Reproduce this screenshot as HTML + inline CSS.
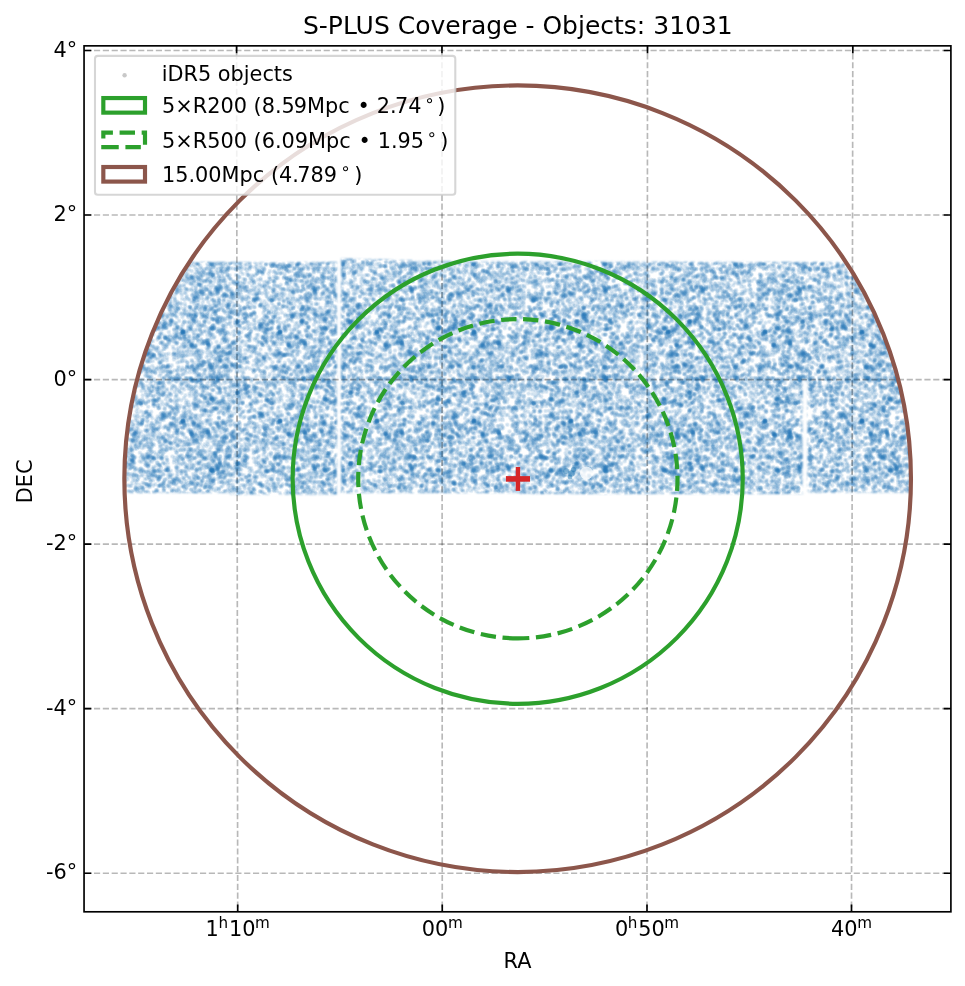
<!DOCTYPE html><html><head><meta charset="utf-8"><title>S-PLUS Coverage</title><style>html,body{margin:0;padding:0;background:#fff;}svg{display:block;will-change:transform;}text{font-family:"DejaVu Sans","Liberation Sans",sans-serif;fill:#000;}</style></head><body><svg width="965" height="986" viewBox="0 0 965 986"><rect width="965" height="986" fill="#fff"/><defs><clipPath id="cc"><circle cx="517.70" cy="478.75" r="393.3"/></clipPath><filter id="fb" x="-5%" y="-5%" width="110%" height="110%"><feGaussianBlur stdDeviation="0.90"/></filter><mask id="cf" maskUnits="userSpaceOnUse" x="90" y="240" width="860" height="280"><path d="M100.0 262.0 L337.0 262.0 L337.0 494.5 L230.0 494.5 L230.0 493.0 L100.0 493.0Z M341.0 258.5 L450.0 261.5 L802.5 262.0 L802.5 380.0 L802.5 494.0 L520.0 494.0 L520.0 493.0 L341.0 493.0Z M802.5 262.0 L930.0 262.0 L930.0 492.5 L807.5 492.5 L807.5 381.0 L802.5 381.0Z" fill="#fff" filter="url(#fb)"/></mask><pattern id="p0" patternUnits="userSpaceOnUse" width="97" height="89" x="0" y="0" fill="#1f77b4" fill-opacity="0.120" stroke="#1f77b4" stroke-opacity="0.120" stroke-width="2.083"><circle cx="31.4" cy="13.4" r="1.28"/><circle cx="63.1" cy="6.4" r="1.28"/><circle cx="52.0" cy="32.5" r="1.28"/><circle cx="5.6" cy="45.2" r="1.28"/><circle cx="3.6" cy="38.6" r="1.28"/><circle cx="6.8" cy="8.1" r="1.28"/><circle cx="41.2" cy="73.6" r="1.28"/><circle cx="12.0" cy="19.9" r="1.28"/><circle cx="60.9" cy="84.3" r="1.28"/><circle cx="56.0" cy="35.3" r="1.28"/><circle cx="-2.3" cy="4.1" r="1.28"/><circle cx="94.7" cy="4.1" r="1.28"/><circle cx="83.3" cy="25.8" r="1.28"/><circle cx="14.0" cy="10.5" r="1.28"/><circle cx="29.9" cy="72.6" r="1.28"/><circle cx="17.5" cy="51.8" r="1.28"/><circle cx="62.0" cy="33.1" r="1.28"/><circle cx="53.1" cy="5.6" r="1.28"/><circle cx="5.8" cy="18.3" r="1.28"/><circle cx="66.0" cy="38.1" r="1.28"/><circle cx="30.5" cy="52.1" r="1.28"/><circle cx="44.0" cy="26.7" r="1.28"/><circle cx="77.1" cy="62.2" r="1.28"/><circle cx="23.7" cy="51.1" r="1.28"/><circle cx="50.9" cy="77.9" r="1.28"/><circle cx="70.8" cy="25.6" r="1.28"/><circle cx="-1.9" cy="10.5" r="1.28"/><circle cx="95.1" cy="10.5" r="1.28"/><circle cx="40.6" cy="67.4" r="1.28"/><circle cx="14.7" cy="43.5" r="1.28"/><circle cx="3.8" cy="59.5" r="1.28"/><circle cx="74.2" cy="51.0" r="1.28"/><circle cx="84.9" cy="27.9" r="1.28"/><circle cx="67.4" cy="52.9" r="1.28"/><circle cx="56.2" cy="40.6" r="1.28"/><circle cx="81.5" cy="84.1" r="1.28"/><circle cx="46.0" cy="59.1" r="1.28"/><circle cx="5.9" cy="62.4" r="1.28"/><circle cx="62.8" cy="-0.6" r="1.28"/><circle cx="62.8" cy="88.4" r="1.28"/><circle cx="79.7" cy="25.3" r="1.28"/><circle cx="37.4" cy="59.5" r="1.28"/><circle cx="2.2" cy="41.1" r="1.28"/><circle cx="99.2" cy="41.1" r="1.28"/><circle cx="16.3" cy="10.4" r="1.28"/><circle cx="5.7" cy="68.4" r="1.28"/><circle cx="12.5" cy="22.0" r="1.28"/><circle cx="37.9" cy="77.6" r="1.28"/><circle cx="7.8" cy="40.0" r="1.28"/><circle cx="53.3" cy="78.6" r="1.28"/><circle cx="79.5" cy="76.9" r="1.28"/><circle cx="27.0" cy="37.0" r="1.28"/><circle cx="34.8" cy="78.7" r="1.28"/><circle cx="92.9" cy="13.4" r="1.28"/><circle cx="17.1" cy="20.6" r="1.28"/><circle cx="22.6" cy="43.2" r="1.28"/><circle cx="57.1" cy="23.4" r="1.28"/><circle cx="0.4" cy="37.3" r="1.28"/><circle cx="97.4" cy="37.3" r="1.28"/><circle cx="35.8" cy="50.4" r="1.28"/><circle cx="92.5" cy="61.5" r="1.28"/><circle cx="50.0" cy="55.0" r="1.28"/><circle cx="65.6" cy="4.8" r="1.28"/><circle cx="87.3" cy="69.4" r="1.28"/><circle cx="84.8" cy="71.0" r="1.28"/><circle cx="38.1" cy="35.5" r="1.28"/><circle cx="10.0" cy="56.5" r="1.28"/><circle cx="6.0" cy="6.0" r="1.28"/><circle cx="20.3" cy="14.4" r="1.28"/><circle cx="33.0" cy="4.7" r="1.28"/><circle cx="0.0" cy="13.5" r="1.28"/><circle cx="97.0" cy="13.5" r="1.28"/><circle cx="9.8" cy="32.4" r="1.28"/><circle cx="2.5" cy="77.8" r="1.28"/><circle cx="99.5" cy="77.8" r="1.28"/><circle cx="59.6" cy="13.2" r="1.28"/><circle cx="24.5" cy="30.9" r="1.28"/><circle cx="35.3" cy="10.9" r="1.28"/><circle cx="82.3" cy="-0.6" r="1.28"/><circle cx="82.3" cy="88.4" r="1.28"/><circle cx="45.2" cy="43.1" r="1.28"/><circle cx="8.3" cy="9.1" r="1.28"/><circle cx="33.2" cy="23.6" r="1.28"/><circle cx="80.4" cy="14.4" r="1.28"/><circle cx="2.2" cy="84.6" r="1.28"/><circle cx="99.2" cy="84.6" r="1.28"/><circle cx="51.2" cy="13.0" r="1.28"/><circle cx="52.7" cy="2.4" r="1.28"/><circle cx="52.7" cy="91.4" r="1.28"/><circle cx="51.2" cy="-1.9" r="1.28"/><circle cx="51.2" cy="87.1" r="1.28"/><circle cx="83.7" cy="62.0" r="1.28"/><circle cx="25.3" cy="32.6" r="1.28"/><circle cx="16.2" cy="68.7" r="1.28"/><circle cx="51.7" cy="69.3" r="1.28"/><circle cx="32.0" cy="19.9" r="1.28"/><circle cx="78.7" cy="-1.3" r="1.28"/><circle cx="78.7" cy="87.7" r="1.28"/><circle cx="82.7" cy="71.7" r="1.28"/><circle cx="79.4" cy="65.8" r="1.28"/><circle cx="22.0" cy="46.1" r="1.28"/><circle cx="34.5" cy="2.6" r="1.28"/><circle cx="34.5" cy="91.6" r="1.28"/><circle cx="2.7" cy="24.9" r="1.28"/><circle cx="99.7" cy="24.9" r="1.28"/><circle cx="25.1" cy="61.6" r="1.28"/><circle cx="92.8" cy="39.8" r="1.28"/><circle cx="90.9" cy="-1.1" r="1.28"/><circle cx="90.9" cy="87.9" r="1.28"/><circle cx="92.6" cy="32.5" r="1.28"/><circle cx="21.4" cy="20.2" r="1.28"/><circle cx="19.1" cy="18.2" r="1.28"/><circle cx="60.5" cy="80.1" r="1.28"/><circle cx="81.5" cy="42.7" r="1.28"/><circle cx="63.3" cy="71.2" r="1.28"/><circle cx="8.2" cy="58.8" r="1.28"/><circle cx="88.2" cy="69.6" r="1.28"/><circle cx="72.8" cy="42.5" r="1.28"/><circle cx="17.3" cy="70.2" r="1.28"/><circle cx="32.3" cy="71.3" r="1.28"/><circle cx="-2.7" cy="35.2" r="1.28"/><circle cx="94.3" cy="35.2" r="1.28"/><circle cx="38.9" cy="84.3" r="1.28"/><circle cx="70.3" cy="15.1" r="1.28"/><circle cx="12.3" cy="13.5" r="1.28"/><circle cx="87.8" cy="71.8" r="1.28"/><circle cx="14.2" cy="73.6" r="1.28"/><circle cx="-1.9" cy="58.5" r="1.28"/><circle cx="95.1" cy="58.5" r="1.28"/><circle cx="34.0" cy="48.8" r="1.28"/><circle cx="12.7" cy="1.3" r="1.28"/><circle cx="12.7" cy="90.3" r="1.28"/><circle cx="-2.8" cy="57.8" r="1.28"/><circle cx="94.2" cy="57.8" r="1.28"/><circle cx="51.1" cy="83.1" r="1.28"/><circle cx="42.1" cy="77.6" r="1.28"/><circle cx="80.1" cy="18.8" r="1.28"/><circle cx="24.4" cy="26.1" r="1.28"/><circle cx="23.3" cy="52.2" r="1.28"/><circle cx="25.2" cy="37.3" r="1.28"/><circle cx="12.7" cy="81.0" r="1.28"/><circle cx="34.3" cy="40.8" r="1.28"/><circle cx="56.6" cy="80.5" r="1.28"/><circle cx="40.8" cy="81.7" r="1.28"/><circle cx="48.7" cy="47.3" r="1.28"/><circle cx="50.8" cy="1.7" r="1.28"/><circle cx="50.8" cy="90.7" r="1.28"/><circle cx="42.7" cy="16.3" r="1.28"/><circle cx="0.4" cy="71.1" r="1.28"/><circle cx="97.4" cy="71.1" r="1.28"/><circle cx="16.7" cy="42.1" r="1.28"/><circle cx="70.3" cy="49.5" r="1.28"/><circle cx="31.6" cy="46.1" r="1.28"/><circle cx="53.9" cy="69.8" r="1.28"/><circle cx="10.3" cy="49.9" r="1.28"/><circle cx="24.1" cy="24.6" r="1.28"/><circle cx="74.9" cy="45.2" r="1.28"/><circle cx="54.5" cy="67.6" r="1.28"/><circle cx="88.5" cy="39.4" r="1.28"/><circle cx="59.4" cy="45.0" r="1.28"/><circle cx="49.7" cy="61.7" r="1.28"/><circle cx="43.9" cy="47.5" r="1.28"/><circle cx="46.4" cy="83.8" r="1.28"/><circle cx="67.8" cy="78.0" r="1.28"/><circle cx="91.4" cy="23.1" r="1.28"/><circle cx="54.3" cy="84.0" r="1.28"/><circle cx="81.5" cy="12.2" r="1.28"/><circle cx="11.8" cy="39.3" r="1.28"/><circle cx="7.0" cy="21.4" r="1.28"/><circle cx="7.1" cy="59.6" r="1.28"/><circle cx="76.0" cy="79.8" r="1.28"/><circle cx="15.0" cy="63.7" r="1.28"/><circle cx="64.0" cy="12.7" r="1.28"/><circle cx="85.6" cy="-2.9" r="1.28"/><circle cx="85.6" cy="86.1" r="1.28"/><circle cx="21.3" cy="84.8" r="1.28"/><circle cx="38.6" cy="43.4" r="1.28"/><circle cx="-1.0" cy="74.1" r="1.28"/><circle cx="96.0" cy="74.1" r="1.28"/><circle cx="15.7" cy="38.4" r="1.28"/><circle cx="50.0" cy="30.2" r="1.28"/><circle cx="19.0" cy="28.3" r="1.28"/><circle cx="70.0" cy="1.7" r="1.28"/><circle cx="70.0" cy="90.7" r="1.28"/><circle cx="53.7" cy="39.2" r="1.28"/><circle cx="1.8" cy="29.5" r="1.28"/><circle cx="98.8" cy="29.5" r="1.28"/><circle cx="60.5" cy="45.6" r="1.28"/><circle cx="6.2" cy="-1.3" r="1.28"/><circle cx="6.2" cy="87.7" r="1.28"/><circle cx="76.5" cy="-2.5" r="1.28"/><circle cx="76.5" cy="86.5" r="1.28"/><circle cx="10.2" cy="23.6" r="1.28"/><circle cx="3.8" cy="69.3" r="1.28"/><circle cx="26.2" cy="11.5" r="1.28"/><circle cx="41.0" cy="81.1" r="1.28"/><circle cx="79.4" cy="23.0" r="1.28"/><circle cx="14.5" cy="81.8" r="1.28"/><circle cx="55.3" cy="62.3" r="1.28"/><circle cx="8.7" cy="5.1" r="1.28"/><circle cx="66.8" cy="37.9" r="1.28"/><circle cx="7.0" cy="83.5" r="1.28"/><circle cx="61.5" cy="71.3" r="1.28"/><circle cx="8.1" cy="76.2" r="1.28"/><circle cx="6.5" cy="76.8" r="1.28"/><circle cx="44.0" cy="30.2" r="1.28"/><circle cx="53.6" cy="82.5" r="1.28"/><circle cx="26.0" cy="11.5" r="1.28"/><circle cx="51.1" cy="21.2" r="1.28"/><circle cx="10.6" cy="14.4" r="1.28"/><circle cx="4.9" cy="18.0" r="1.28"/><circle cx="30.3" cy="27.1" r="1.28"/><circle cx="73.7" cy="25.8" r="1.28"/><circle cx="48.5" cy="15.8" r="1.28"/><circle cx="33.7" cy="1.6" r="1.28"/><circle cx="33.7" cy="90.6" r="1.28"/><circle cx="24.3" cy="1.4" r="1.28"/><circle cx="24.3" cy="90.4" r="1.28"/><circle cx="71.1" cy="49.0" r="1.28"/><circle cx="18.4" cy="42.3" r="1.28"/><circle cx="90.7" cy="9.5" r="1.28"/><circle cx="79.4" cy="38.5" r="1.28"/><circle cx="48.0" cy="74.3" r="1.28"/><circle cx="38.1" cy="45.1" r="1.28"/><circle cx="66.7" cy="-1.6" r="1.28"/><circle cx="66.7" cy="87.4" r="1.28"/><circle cx="33.2" cy="74.1" r="1.28"/><circle cx="68.6" cy="56.6" r="1.28"/><circle cx="39.3" cy="30.9" r="1.28"/><circle cx="5.3" cy="11.6" r="1.28"/><circle cx="6.9" cy="65.9" r="1.28"/><circle cx="24.8" cy="14.5" r="1.28"/><circle cx="8.2" cy="74.9" r="1.28"/><circle cx="84.4" cy="59.7" r="1.28"/><circle cx="27.3" cy="21.6" r="1.28"/><circle cx="28.4" cy="40.9" r="1.28"/><circle cx="15.3" cy="39.7" r="1.28"/><circle cx="25.5" cy="85.6" r="1.28"/><circle cx="-2.7" cy="48.7" r="1.28"/><circle cx="94.3" cy="48.7" r="1.28"/><circle cx="23.7" cy="85.9" r="1.28"/><circle cx="30.0" cy="31.7" r="1.28"/><circle cx="0.1" cy="34.0" r="1.28"/><circle cx="97.1" cy="34.0" r="1.28"/><circle cx="46.0" cy="44.7" r="1.28"/><circle cx="19.5" cy="44.9" r="1.28"/><circle cx="0.5" cy="23.5" r="1.28"/><circle cx="97.5" cy="23.5" r="1.28"/><circle cx="8.7" cy="35.6" r="1.28"/><circle cx="4.0" cy="2.0" r="1.28"/><circle cx="4.0" cy="91.0" r="1.28"/><circle cx="29.5" cy="20.7" r="1.28"/><circle cx="56.8" cy="47.1" r="1.28"/><circle cx="72.8" cy="58.5" r="1.28"/><circle cx="69.5" cy="78.2" r="1.28"/><circle cx="37.8" cy="29.0" r="1.28"/><circle cx="-1.5" cy="13.3" r="1.28"/><circle cx="95.5" cy="13.3" r="1.28"/><circle cx="70.2" cy="57.2" r="1.28"/><circle cx="4.2" cy="74.3" r="1.28"/><circle cx="86.5" cy="55.8" r="1.28"/><circle cx="71.2" cy="72.3" r="1.28"/><circle cx="13.5" cy="46.6" r="1.28"/><circle cx="48.9" cy="74.3" r="1.28"/><circle cx="78.1" cy="73.6" r="1.28"/><circle cx="56.7" cy="79.5" r="1.28"/><circle cx="66.2" cy="61.7" r="1.28"/><circle cx="22.3" cy="2.8" r="1.28"/><circle cx="22.3" cy="91.8" r="1.28"/><circle cx="12.9" cy="32.1" r="1.28"/><circle cx="10.2" cy="74.4" r="1.28"/><circle cx="54.2" cy="55.9" r="1.28"/><circle cx="60.7" cy="60.6" r="1.28"/><circle cx="47.5" cy="0.3" r="1.28"/><circle cx="47.5" cy="89.3" r="1.28"/><circle cx="77.4" cy="66.6" r="1.28"/><circle cx="48.8" cy="47.6" r="1.28"/><circle cx="64.0" cy="5.9" r="1.28"/><circle cx="71.5" cy="22.4" r="1.28"/><circle cx="7.2" cy="23.6" r="1.28"/><circle cx="70.7" cy="18.3" r="1.28"/><circle cx="71.8" cy="-2.2" r="1.28"/><circle cx="71.8" cy="86.8" r="1.28"/><circle cx="47.9" cy="34.0" r="1.28"/><circle cx="46.5" cy="60.8" r="1.28"/><circle cx="74.4" cy="54.9" r="1.28"/><circle cx="62.3" cy="6.9" r="1.28"/><circle cx="14.3" cy="22.6" r="1.28"/><circle cx="72.1" cy="27.1" r="1.28"/><circle cx="55.1" cy="1.1" r="1.28"/><circle cx="55.1" cy="90.1" r="1.28"/><circle cx="5.9" cy="23.9" r="1.28"/><circle cx="65.2" cy="61.6" r="1.28"/><circle cx="65.5" cy="25.9" r="1.28"/><circle cx="50.1" cy="41.4" r="1.28"/><circle cx="45.2" cy="10.5" r="1.28"/><circle cx="86.7" cy="17.7" r="1.28"/><circle cx="-2.1" cy="83.3" r="1.28"/><circle cx="94.9" cy="83.3" r="1.28"/><circle cx="1.7" cy="40.8" r="1.28"/><circle cx="98.7" cy="40.8" r="1.28"/><circle cx="79.5" cy="-2.8" r="1.28"/><circle cx="79.5" cy="86.2" r="1.28"/><circle cx="43.6" cy="23.9" r="1.28"/><circle cx="20.4" cy="84.2" r="1.28"/><circle cx="20.4" cy="51.8" r="1.28"/><circle cx="13.7" cy="46.6" r="1.28"/><circle cx="92.4" cy="11.8" r="1.28"/><circle cx="79.6" cy="45.3" r="1.28"/><circle cx="86.0" cy="62.6" r="1.28"/><circle cx="22.4" cy="79.9" r="1.28"/><circle cx="47.2" cy="2.2" r="1.28"/><circle cx="47.2" cy="91.2" r="1.28"/><circle cx="0.3" cy="43.8" r="1.28"/><circle cx="97.3" cy="43.8" r="1.28"/><circle cx="43.7" cy="26.9" r="1.28"/><circle cx="13.6" cy="30.6" r="1.28"/><circle cx="30.7" cy="74.8" r="1.28"/><circle cx="0.2" cy="66.8" r="1.28"/><circle cx="97.2" cy="66.8" r="1.28"/><circle cx="81.4" cy="10.7" r="1.28"/><circle cx="89.9" cy="63.5" r="1.28"/><circle cx="87.5" cy="25.8" r="1.28"/><circle cx="36.1" cy="35.0" r="1.28"/><circle cx="-0.1" cy="52.4" r="1.28"/><circle cx="96.9" cy="52.4" r="1.28"/><circle cx="35.0" cy="38.1" r="1.28"/><circle cx="26.7" cy="4.3" r="1.28"/><circle cx="9.9" cy="74.3" r="1.28"/><circle cx="27.7" cy="83.3" r="1.28"/><circle cx="24.2" cy="23.6" r="1.28"/><circle cx="49.6" cy="16.9" r="1.28"/><circle cx="36.2" cy="85.1" r="1.28"/><circle cx="85.8" cy="72.3" r="1.28"/><circle cx="61.2" cy="81.3" r="1.28"/><circle cx="91.2" cy="48.9" r="1.28"/><circle cx="69.8" cy="4.4" r="1.28"/><circle cx="71.0" cy="40.1" r="1.28"/><circle cx="73.0" cy="57.4" r="1.28"/><circle cx="27.8" cy="4.4" r="1.28"/><circle cx="89.9" cy="11.3" r="1.28"/><circle cx="45.8" cy="30.6" r="1.28"/><circle cx="28.9" cy="65.8" r="1.28"/><circle cx="-2.3" cy="23.2" r="1.28"/><circle cx="94.7" cy="23.2" r="1.28"/><circle cx="63.6" cy="26.8" r="1.28"/><circle cx="54.1" cy="35.1" r="1.28"/><circle cx="16.2" cy="14.4" r="1.28"/><circle cx="20.2" cy="80.6" r="1.28"/><circle cx="48.2" cy="19.6" r="1.28"/><circle cx="87.9" cy="-0.3" r="1.28"/><circle cx="87.9" cy="88.7" r="1.28"/><circle cx="43.6" cy="12.4" r="1.28"/><circle cx="18.7" cy="8.1" r="1.28"/><circle cx="33.2" cy="8.1" r="1.28"/><circle cx="23.2" cy="23.0" r="1.28"/><circle cx="55.3" cy="79.0" r="1.28"/><circle cx="72.7" cy="36.7" r="1.28"/><circle cx="40.1" cy="46.7" r="1.28"/><circle cx="36.6" cy="30.1" r="1.28"/><circle cx="6.0" cy="24.7" r="1.28"/><circle cx="93.9" cy="11.2" r="1.28"/><circle cx="48.8" cy="56.0" r="1.28"/><circle cx="83.7" cy="19.2" r="1.28"/><circle cx="26.3" cy="22.1" r="1.28"/><circle cx="38.8" cy="39.7" r="1.28"/><circle cx="92.5" cy="75.5" r="1.28"/><circle cx="84.7" cy="1.9" r="1.28"/><circle cx="84.7" cy="90.9" r="1.28"/><circle cx="3.1" cy="63.1" r="1.28"/><circle cx="86.9" cy="42.1" r="1.28"/><circle cx="57.0" cy="0.0" r="1.28"/><circle cx="57.0" cy="89.0" r="1.28"/><circle cx="38.0" cy="82.5" r="1.28"/><circle cx="80.1" cy="76.1" r="1.28"/><circle cx="-2.7" cy="22.1" r="1.28"/><circle cx="94.3" cy="22.1" r="1.28"/><circle cx="10.6" cy="13.7" r="1.28"/><circle cx="50.7" cy="60.7" r="1.28"/><circle cx="91.3" cy="64.2" r="1.28"/><circle cx="62.8" cy="68.1" r="1.28"/><circle cx="44.4" cy="49.1" r="1.28"/><circle cx="3.8" cy="69.6" r="1.28"/><circle cx="22.6" cy="81.9" r="1.28"/><circle cx="62.6" cy="27.0" r="1.28"/><circle cx="12.4" cy="22.4" r="1.28"/><circle cx="61.7" cy="62.2" r="1.28"/><circle cx="9.8" cy="5.7" r="1.28"/><circle cx="11.1" cy="7.9" r="1.28"/><circle cx="2.7" cy="26.4" r="1.28"/><circle cx="99.7" cy="26.4" r="1.28"/><circle cx="2.0" cy="25.9" r="1.28"/><circle cx="99.0" cy="25.9" r="1.28"/><circle cx="22.5" cy="21.0" r="1.28"/><circle cx="24.2" cy="22.2" r="1.28"/><circle cx="22.2" cy="20.9" r="1.28"/><circle cx="22.7" cy="23.8" r="1.28"/><circle cx="23.5" cy="21.6" r="1.28"/><circle cx="23.8" cy="22.2" r="1.28"/><circle cx="21.2" cy="22.9" r="1.28"/><circle cx="23.5" cy="24.0" r="1.28"/><circle cx="22.7" cy="20.6" r="1.28"/><circle cx="23.7" cy="25.0" r="1.28"/><circle cx="30.6" cy="75.0" r="1.28"/><circle cx="28.9" cy="85.5" r="1.28"/><circle cx="27.1" cy="85.6" r="1.28"/><circle cx="92.8" cy="16.2" r="1.28"/><circle cx="11.8" cy="6.2" r="1.28"/><circle cx="86.7" cy="64.8" r="1.28"/><circle cx="86.8" cy="67.8" r="1.28"/><circle cx="85.7" cy="64.9" r="1.28"/><circle cx="85.1" cy="64.2" r="1.28"/><circle cx="85.0" cy="66.0" r="1.28"/><circle cx="85.8" cy="65.3" r="1.28"/><circle cx="85.5" cy="66.3" r="1.28"/><circle cx="86.3" cy="65.0" r="1.28"/><circle cx="86.5" cy="65.0" r="1.28"/><circle cx="84.3" cy="67.0" r="1.28"/><circle cx="86.3" cy="64.1" r="1.28"/><circle cx="87.0" cy="65.6" r="1.28"/><circle cx="83.8" cy="67.1" r="1.28"/><circle cx="86.1" cy="66.3" r="1.28"/><circle cx="85.9" cy="65.0" r="1.28"/><circle cx="83.8" cy="66.4" r="1.28"/><circle cx="85.7" cy="64.9" r="1.28"/><circle cx="86.1" cy="65.3" r="1.28"/><circle cx="90.1" cy="22.2" r="1.28"/><circle cx="88.8" cy="25.9" r="1.28"/><circle cx="88.6" cy="22.2" r="1.28"/><circle cx="89.0" cy="21.9" r="1.28"/><circle cx="28.2" cy="-0.5" r="1.28"/><circle cx="28.2" cy="88.5" r="1.28"/><circle cx="27.0" cy="0.2" r="1.28"/><circle cx="27.0" cy="89.2" r="1.28"/><circle cx="26.9" cy="1.7" r="1.28"/><circle cx="26.9" cy="90.7" r="1.28"/><circle cx="29.6" cy="-0.5" r="1.28"/><circle cx="29.6" cy="88.5" r="1.28"/><circle cx="34.7" cy="22.5" r="1.28"/><circle cx="38.4" cy="24.3" r="1.28"/><circle cx="70.8" cy="72.6" r="1.28"/><circle cx="71.2" cy="74.3" r="1.28"/><circle cx="71.7" cy="72.7" r="1.28"/><circle cx="72.3" cy="75.1" r="1.28"/><circle cx="23.0" cy="5.4" r="1.28"/><circle cx="-2.0" cy="79.1" r="1.28"/><circle cx="95.0" cy="79.1" r="1.28"/><circle cx="-0.8" cy="79.4" r="1.28"/><circle cx="96.2" cy="79.4" r="1.28"/><circle cx="-2.2" cy="77.4" r="1.28"/><circle cx="94.8" cy="77.4" r="1.28"/><circle cx="-1.8" cy="79.9" r="1.28"/><circle cx="95.2" cy="79.9" r="1.28"/><circle cx="93.8" cy="77.4" r="1.28"/><circle cx="-1.9" cy="76.3" r="1.28"/><circle cx="95.1" cy="76.3" r="1.28"/><circle cx="-2.2" cy="78.1" r="1.28"/><circle cx="94.8" cy="78.1" r="1.28"/><circle cx="-1.4" cy="77.8" r="1.28"/><circle cx="95.6" cy="77.8" r="1.28"/><circle cx="-3.0" cy="78.2" r="1.28"/><circle cx="94.0" cy="78.2" r="1.28"/><circle cx="-2.0" cy="77.8" r="1.28"/><circle cx="95.0" cy="77.8" r="1.28"/><circle cx="-1.9" cy="79.5" r="1.28"/><circle cx="95.1" cy="79.5" r="1.28"/><circle cx="-0.5" cy="80.7" r="1.28"/><circle cx="96.5" cy="80.7" r="1.28"/><circle cx="-2.9" cy="78.1" r="1.28"/><circle cx="94.1" cy="78.1" r="1.28"/><circle cx="38.7" cy="1.5" r="1.28"/><circle cx="38.7" cy="90.5" r="1.28"/><circle cx="36.3" cy="85.3" r="1.28"/><circle cx="11.4" cy="40.0" r="1.28"/><circle cx="10.9" cy="42.5" r="1.28"/><circle cx="10.5" cy="42.8" r="1.28"/><circle cx="11.5" cy="42.0" r="1.28"/><circle cx="11.0" cy="41.8" r="1.28"/><circle cx="84.5" cy="37.1" r="1.28"/><circle cx="10.5" cy="54.2" r="1.28"/><circle cx="10.8" cy="53.7" r="1.28"/><circle cx="10.2" cy="54.7" r="1.28"/><circle cx="62.4" cy="19.7" r="1.28"/><circle cx="18.4" cy="26.3" r="1.28"/><circle cx="4.5" cy="8.5" r="1.28"/><circle cx="6.7" cy="9.4" r="1.28"/><circle cx="66.4" cy="39.2" r="1.28"/><circle cx="28.2" cy="51.6" r="1.28"/><circle cx="-0.4" cy="31.6" r="1.28"/><circle cx="96.6" cy="31.6" r="1.28"/><circle cx="1.1" cy="79.1" r="1.28"/><circle cx="98.1" cy="79.1" r="1.28"/><circle cx="1.6" cy="79.3" r="1.28"/><circle cx="98.6" cy="79.3" r="1.28"/><circle cx="14.1" cy="-0.7" r="1.28"/><circle cx="14.1" cy="88.3" r="1.28"/><circle cx="17.2" cy="2.2" r="1.28"/><circle cx="17.2" cy="91.2" r="1.28"/><circle cx="35.7" cy="46.3" r="1.28"/><circle cx="90.8" cy="6.7" r="1.28"/><circle cx="90.0" cy="10.3" r="1.28"/><circle cx="-2.9" cy="-1.3" r="1.28"/><circle cx="-2.9" cy="87.7" r="1.28"/><circle cx="94.1" cy="-1.3" r="1.28"/><circle cx="94.1" cy="87.7" r="1.28"/><circle cx="89.5" cy="-0.5" r="1.28"/><circle cx="89.5" cy="88.5" r="1.28"/><circle cx="60.4" cy="72.6" r="1.28"/><circle cx="39.6" cy="76.1" r="1.28"/><circle cx="38.1" cy="76.2" r="1.28"/><circle cx="38.8" cy="75.7" r="1.28"/><circle cx="39.3" cy="77.3" r="1.28"/><circle cx="39.5" cy="75.1" r="1.28"/><circle cx="54.9" cy="66.9" r="1.28"/><circle cx="57.7" cy="50.1" r="1.28"/><circle cx="57.1" cy="48.3" r="1.28"/><circle cx="57.4" cy="47.9" r="1.28"/><circle cx="41.6" cy="2.1" r="1.28"/><circle cx="41.6" cy="91.1" r="1.28"/><circle cx="42.7" cy="-0.0" r="1.28"/><circle cx="42.7" cy="89.0" r="1.28"/><circle cx="41.8" cy="2.3" r="1.28"/><circle cx="41.8" cy="91.3" r="1.28"/><circle cx="45.4" cy="9.8" r="1.28"/><circle cx="42.5" cy="45.0" r="1.28"/><circle cx="72.5" cy="69.7" r="1.28"/><circle cx="69.0" cy="71.3" r="1.28"/><circle cx="13.0" cy="74.1" r="1.28"/><circle cx="14.4" cy="79.5" r="1.28"/><circle cx="10.2" cy="76.4" r="1.28"/><circle cx="13.8" cy="75.9" r="1.28"/><circle cx="13.9" cy="73.6" r="1.28"/><circle cx="14.2" cy="76.7" r="1.28"/><circle cx="13.2" cy="75.6" r="1.28"/><circle cx="14.0" cy="75.7" r="1.28"/><circle cx="13.5" cy="75.7" r="1.28"/><circle cx="10.5" cy="76.2" r="1.28"/><circle cx="13.5" cy="77.2" r="1.28"/><circle cx="12.2" cy="76.2" r="1.28"/><circle cx="14.0" cy="76.5" r="1.28"/><circle cx="14.7" cy="78.7" r="1.28"/><circle cx="12.1" cy="74.0" r="1.28"/><circle cx="14.2" cy="78.1" r="1.28"/><circle cx="14.3" cy="77.3" r="1.28"/><circle cx="60.2" cy="31.5" r="1.28"/><circle cx="62.1" cy="31.6" r="1.28"/><circle cx="63.4" cy="31.9" r="1.28"/><circle cx="60.0" cy="33.3" r="1.28"/><circle cx="61.4" cy="35.7" r="1.28"/><circle cx="60.7" cy="31.5" r="1.28"/><circle cx="74.2" cy="39.0" r="1.28"/><circle cx="81.1" cy="22.4" r="1.28"/><circle cx="79.0" cy="21.7" r="1.28"/><circle cx="79.8" cy="22.6" r="1.28"/><circle cx="11.9" cy="54.6" r="1.28"/><circle cx="15.1" cy="55.5" r="1.28"/><circle cx="63.0" cy="2.4" r="1.28"/><circle cx="63.0" cy="91.4" r="1.28"/><circle cx="34.0" cy="19.5" r="1.28"/><circle cx="33.7" cy="19.0" r="1.28"/><circle cx="36.5" cy="22.1" r="1.28"/><circle cx="22.1" cy="11.4" r="1.28"/><circle cx="77.6" cy="35.9" r="1.28"/><circle cx="51.9" cy="32.2" r="1.28"/><circle cx="54.5" cy="30.3" r="1.28"/><circle cx="54.8" cy="31.0" r="1.28"/><circle cx="53.5" cy="36.9" r="1.28"/><circle cx="1.7" cy="49.7" r="1.28"/><circle cx="98.7" cy="49.7" r="1.28"/><circle cx="0.1" cy="48.1" r="1.28"/><circle cx="97.1" cy="48.1" r="1.28"/><circle cx="-0.2" cy="47.3" r="1.28"/><circle cx="96.8" cy="47.3" r="1.28"/><circle cx="1.7" cy="50.0" r="1.28"/><circle cx="98.7" cy="50.0" r="1.28"/><circle cx="1.1" cy="49.4" r="1.28"/><circle cx="98.1" cy="49.4" r="1.28"/><circle cx="2.8" cy="47.7" r="1.28"/><circle cx="99.8" cy="47.7" r="1.28"/><circle cx="1.2" cy="48.9" r="1.28"/><circle cx="98.2" cy="48.9" r="1.28"/><circle cx="2.3" cy="47.4" r="1.28"/><circle cx="99.3" cy="47.4" r="1.28"/><circle cx="45.2" cy="66.6" r="1.28"/><circle cx="45.2" cy="66.4" r="1.28"/><circle cx="33.6" cy="65.2" r="1.28"/><circle cx="32.4" cy="68.2" r="1.28"/><circle cx="30.6" cy="67.5" r="1.28"/><circle cx="31.6" cy="66.6" r="1.28"/><circle cx="62.4" cy="85.8" r="1.28"/><circle cx="27.1" cy="20.3" r="1.28"/><circle cx="24.1" cy="23.2" r="1.28"/><circle cx="24.8" cy="21.8" r="1.28"/><circle cx="26.7" cy="20.1" r="1.28"/><circle cx="65.0" cy="59.6" r="1.28"/><circle cx="66.4" cy="57.0" r="1.28"/><circle cx="65.4" cy="59.9" r="1.28"/><circle cx="66.3" cy="58.8" r="1.28"/><circle cx="67.6" cy="60.8" r="1.28"/><circle cx="69.5" cy="60.4" r="1.28"/><circle cx="67.4" cy="59.4" r="1.28"/><circle cx="69.4" cy="60.9" r="1.28"/><circle cx="66.8" cy="59.8" r="1.28"/><circle cx="67.6" cy="59.3" r="1.28"/><circle cx="66.6" cy="57.6" r="1.28"/><circle cx="66.6" cy="57.4" r="1.28"/><circle cx="7.3" cy="50.5" r="1.28"/></pattern><pattern id="p1" patternUnits="userSpaceOnUse" width="113" height="71" x="17" y="23" fill="#1f77b4" fill-opacity="0.120" stroke="#1f77b4" stroke-opacity="0.120" stroke-width="2.083"><circle cx="100.7" cy="4.7" r="1.28"/><circle cx="98.1" cy="64.9" r="1.28"/><circle cx="106.7" cy="7.6" r="1.28"/><circle cx="23.2" cy="7.9" r="1.28"/><circle cx="3.9" cy="60.2" r="1.28"/><circle cx="91.8" cy="45.0" r="1.28"/><circle cx="93.2" cy="44.8" r="1.28"/><circle cx="32.5" cy="7.1" r="1.28"/><circle cx="11.1" cy="53.8" r="1.28"/><circle cx="23.2" cy="22.7" r="1.28"/><circle cx="47.9" cy="1.5" r="1.28"/><circle cx="47.9" cy="72.5" r="1.28"/><circle cx="29.0" cy="20.1" r="1.28"/><circle cx="80.9" cy="26.1" r="1.28"/><circle cx="36.3" cy="-2.6" r="1.28"/><circle cx="36.3" cy="68.4" r="1.28"/><circle cx="56.9" cy="60.4" r="1.28"/><circle cx="69.9" cy="2.2" r="1.28"/><circle cx="69.9" cy="73.2" r="1.28"/><circle cx="46.7" cy="31.0" r="1.28"/><circle cx="87.4" cy="24.6" r="1.28"/><circle cx="79.6" cy="38.2" r="1.28"/><circle cx="24.5" cy="61.2" r="1.28"/><circle cx="10.3" cy="58.2" r="1.28"/><circle cx="19.3" cy="0.1" r="1.28"/><circle cx="19.3" cy="71.1" r="1.28"/><circle cx="22.8" cy="54.1" r="1.28"/><circle cx="-2.5" cy="0.3" r="1.28"/><circle cx="-2.5" cy="71.3" r="1.28"/><circle cx="110.5" cy="0.3" r="1.28"/><circle cx="110.5" cy="71.3" r="1.28"/><circle cx="55.5" cy="34.9" r="1.28"/><circle cx="90.0" cy="13.1" r="1.28"/><circle cx="55.9" cy="24.7" r="1.28"/><circle cx="94.0" cy="18.5" r="1.28"/><circle cx="106.7" cy="20.1" r="1.28"/><circle cx="24.3" cy="49.7" r="1.28"/><circle cx="56.3" cy="7.8" r="1.28"/><circle cx="71.9" cy="5.7" r="1.28"/><circle cx="89.0" cy="49.5" r="1.28"/><circle cx="88.9" cy="44.6" r="1.28"/><circle cx="40.2" cy="28.5" r="1.28"/><circle cx="44.6" cy="63.2" r="1.28"/><circle cx="9.7" cy="63.1" r="1.28"/><circle cx="2.8" cy="14.6" r="1.28"/><circle cx="115.8" cy="14.6" r="1.28"/><circle cx="29.7" cy="64.0" r="1.28"/><circle cx="56.6" cy="26.9" r="1.28"/><circle cx="99.9" cy="16.6" r="1.28"/><circle cx="52.1" cy="37.7" r="1.28"/><circle cx="85.3" cy="53.5" r="1.28"/><circle cx="73.0" cy="24.7" r="1.28"/><circle cx="36.9" cy="11.0" r="1.28"/><circle cx="95.3" cy="47.0" r="1.28"/><circle cx="83.8" cy="12.0" r="1.28"/><circle cx="49.6" cy="54.9" r="1.28"/><circle cx="65.4" cy="9.0" r="1.28"/><circle cx="52.2" cy="62.8" r="1.28"/><circle cx="26.9" cy="13.6" r="1.28"/><circle cx="34.1" cy="49.9" r="1.28"/><circle cx="95.3" cy="11.0" r="1.28"/><circle cx="17.6" cy="17.6" r="1.28"/><circle cx="36.9" cy="37.1" r="1.28"/><circle cx="18.2" cy="23.3" r="1.28"/><circle cx="21.4" cy="-1.8" r="1.28"/><circle cx="21.4" cy="69.2" r="1.28"/><circle cx="82.3" cy="7.2" r="1.28"/><circle cx="108.7" cy="7.2" r="1.28"/><circle cx="43.4" cy="-1.1" r="1.28"/><circle cx="43.4" cy="69.9" r="1.28"/><circle cx="89.8" cy="52.1" r="1.28"/><circle cx="49.1" cy="13.9" r="1.28"/><circle cx="72.1" cy="7.6" r="1.28"/><circle cx="23.3" cy="27.6" r="1.28"/><circle cx="3.8" cy="28.3" r="1.28"/><circle cx="89.4" cy="49.2" r="1.28"/><circle cx="56.6" cy="44.9" r="1.28"/><circle cx="52.4" cy="10.1" r="1.28"/><circle cx="68.2" cy="28.7" r="1.28"/><circle cx="83.7" cy="64.5" r="1.28"/><circle cx="48.6" cy="40.8" r="1.28"/><circle cx="84.6" cy="29.9" r="1.28"/><circle cx="25.8" cy="51.3" r="1.28"/><circle cx="99.4" cy="55.0" r="1.28"/><circle cx="79.1" cy="60.5" r="1.28"/><circle cx="76.8" cy="45.5" r="1.28"/><circle cx="51.3" cy="22.2" r="1.28"/><circle cx="71.0" cy="6.9" r="1.28"/><circle cx="47.4" cy="55.5" r="1.28"/><circle cx="80.6" cy="44.7" r="1.28"/><circle cx="28.3" cy="30.1" r="1.28"/><circle cx="51.4" cy="44.1" r="1.28"/><circle cx="46.3" cy="47.9" r="1.28"/><circle cx="105.1" cy="13.0" r="1.28"/><circle cx="74.0" cy="55.3" r="1.28"/><circle cx="43.9" cy="34.8" r="1.28"/><circle cx="-2.9" cy="2.7" r="1.28"/><circle cx="-2.9" cy="73.7" r="1.28"/><circle cx="110.1" cy="2.7" r="1.28"/><circle cx="110.1" cy="73.7" r="1.28"/><circle cx="61.4" cy="11.4" r="1.28"/><circle cx="88.3" cy="66.8" r="1.28"/><circle cx="58.7" cy="7.2" r="1.28"/><circle cx="64.9" cy="38.4" r="1.28"/><circle cx="81.1" cy="36.4" r="1.28"/><circle cx="72.2" cy="58.9" r="1.28"/><circle cx="59.0" cy="29.1" r="1.28"/><circle cx="107.1" cy="14.9" r="1.28"/><circle cx="77.3" cy="27.9" r="1.28"/><circle cx="86.2" cy="8.7" r="1.28"/><circle cx="-1.8" cy="25.2" r="1.28"/><circle cx="111.2" cy="25.2" r="1.28"/><circle cx="6.4" cy="19.5" r="1.28"/><circle cx="45.2" cy="0.9" r="1.28"/><circle cx="45.2" cy="71.9" r="1.28"/><circle cx="47.3" cy="29.9" r="1.28"/><circle cx="78.9" cy="25.0" r="1.28"/><circle cx="30.0" cy="15.9" r="1.28"/><circle cx="83.8" cy="66.7" r="1.28"/><circle cx="59.6" cy="15.5" r="1.28"/><circle cx="90.6" cy="27.8" r="1.28"/><circle cx="24.0" cy="9.2" r="1.28"/><circle cx="87.8" cy="57.5" r="1.28"/><circle cx="71.7" cy="33.3" r="1.28"/><circle cx="63.5" cy="16.0" r="1.28"/><circle cx="108.9" cy="25.1" r="1.28"/><circle cx="72.2" cy="58.1" r="1.28"/><circle cx="92.2" cy="33.2" r="1.28"/><circle cx="33.3" cy="38.9" r="1.28"/><circle cx="14.1" cy="59.2" r="1.28"/><circle cx="40.1" cy="60.4" r="1.28"/><circle cx="30.2" cy="26.7" r="1.28"/><circle cx="28.7" cy="30.3" r="1.28"/><circle cx="21.0" cy="0.2" r="1.28"/><circle cx="21.0" cy="71.2" r="1.28"/><circle cx="81.6" cy="20.0" r="1.28"/><circle cx="27.7" cy="21.4" r="1.28"/><circle cx="54.2" cy="30.4" r="1.28"/><circle cx="72.0" cy="46.8" r="1.28"/><circle cx="41.0" cy="65.9" r="1.28"/><circle cx="96.6" cy="4.1" r="1.28"/><circle cx="93.6" cy="64.3" r="1.28"/><circle cx="88.6" cy="10.0" r="1.28"/><circle cx="93.9" cy="45.0" r="1.28"/><circle cx="1.7" cy="0.8" r="1.28"/><circle cx="1.7" cy="71.8" r="1.28"/><circle cx="114.7" cy="0.8" r="1.28"/><circle cx="114.7" cy="71.8" r="1.28"/><circle cx="107.5" cy="46.6" r="1.28"/><circle cx="28.3" cy="7.2" r="1.28"/><circle cx="16.1" cy="16.6" r="1.28"/><circle cx="87.7" cy="24.6" r="1.28"/><circle cx="17.3" cy="64.2" r="1.28"/><circle cx="89.5" cy="11.9" r="1.28"/><circle cx="100.7" cy="43.2" r="1.28"/><circle cx="88.3" cy="47.5" r="1.28"/><circle cx="101.0" cy="56.0" r="1.28"/><circle cx="94.8" cy="14.0" r="1.28"/><circle cx="78.3" cy="37.7" r="1.28"/><circle cx="83.8" cy="31.1" r="1.28"/><circle cx="99.7" cy="39.4" r="1.28"/><circle cx="29.9" cy="16.6" r="1.28"/><circle cx="15.7" cy="35.0" r="1.28"/><circle cx="6.6" cy="33.2" r="1.28"/><circle cx="16.3" cy="34.9" r="1.28"/><circle cx="56.3" cy="38.3" r="1.28"/><circle cx="97.5" cy="0.5" r="1.28"/><circle cx="97.5" cy="71.5" r="1.28"/><circle cx="95.0" cy="33.2" r="1.28"/><circle cx="63.6" cy="47.2" r="1.28"/><circle cx="95.0" cy="26.6" r="1.28"/><circle cx="47.3" cy="-2.8" r="1.28"/><circle cx="47.3" cy="68.2" r="1.28"/><circle cx="8.5" cy="45.2" r="1.28"/><circle cx="71.9" cy="2.0" r="1.28"/><circle cx="71.9" cy="73.0" r="1.28"/><circle cx="68.9" cy="48.5" r="1.28"/><circle cx="105.3" cy="23.5" r="1.28"/><circle cx="-2.1" cy="36.3" r="1.28"/><circle cx="110.9" cy="36.3" r="1.28"/><circle cx="54.8" cy="63.7" r="1.28"/><circle cx="3.8" cy="51.0" r="1.28"/><circle cx="70.7" cy="24.0" r="1.28"/><circle cx="97.4" cy="26.0" r="1.28"/><circle cx="53.6" cy="37.3" r="1.28"/><circle cx="87.1" cy="15.0" r="1.28"/><circle cx="49.2" cy="30.0" r="1.28"/><circle cx="62.6" cy="58.7" r="1.28"/><circle cx="33.1" cy="58.8" r="1.28"/><circle cx="45.6" cy="35.8" r="1.28"/><circle cx="30.7" cy="36.0" r="1.28"/><circle cx="-2.8" cy="46.5" r="1.28"/><circle cx="110.2" cy="46.5" r="1.28"/><circle cx="89.5" cy="23.5" r="1.28"/><circle cx="35.8" cy="21.2" r="1.28"/><circle cx="66.3" cy="45.1" r="1.28"/><circle cx="88.6" cy="2.8" r="1.28"/><circle cx="88.6" cy="73.8" r="1.28"/><circle cx="81.7" cy="62.9" r="1.28"/><circle cx="61.6" cy="3.5" r="1.28"/><circle cx="33.9" cy="0.4" r="1.28"/><circle cx="33.9" cy="71.4" r="1.28"/><circle cx="21.5" cy="65.4" r="1.28"/><circle cx="68.8" cy="46.7" r="1.28"/><circle cx="89.2" cy="64.6" r="1.28"/><circle cx="69.1" cy="43.8" r="1.28"/><circle cx="70.8" cy="49.4" r="1.28"/><circle cx="67.4" cy="48.3" r="1.28"/><circle cx="24.0" cy="47.4" r="1.28"/><circle cx="51.7" cy="54.1" r="1.28"/><circle cx="11.5" cy="12.9" r="1.28"/><circle cx="4.2" cy="55.0" r="1.28"/><circle cx="103.3" cy="46.6" r="1.28"/><circle cx="41.7" cy="58.4" r="1.28"/><circle cx="88.9" cy="39.9" r="1.28"/><circle cx="29.2" cy="21.4" r="1.28"/><circle cx="47.7" cy="22.6" r="1.28"/><circle cx="48.7" cy="45.6" r="1.28"/><circle cx="105.5" cy="3.9" r="1.28"/><circle cx="64.1" cy="2.8" r="1.28"/><circle cx="64.1" cy="73.8" r="1.28"/><circle cx="13.4" cy="57.5" r="1.28"/><circle cx="65.0" cy="65.2" r="1.28"/><circle cx="50.5" cy="1.0" r="1.28"/><circle cx="50.5" cy="72.0" r="1.28"/><circle cx="43.7" cy="42.0" r="1.28"/><circle cx="106.0" cy="-1.4" r="1.28"/><circle cx="106.0" cy="69.6" r="1.28"/><circle cx="53.7" cy="29.3" r="1.28"/><circle cx="11.5" cy="45.8" r="1.28"/><circle cx="24.0" cy="10.8" r="1.28"/><circle cx="1.8" cy="0.3" r="1.28"/><circle cx="1.8" cy="71.3" r="1.28"/><circle cx="114.8" cy="0.3" r="1.28"/><circle cx="114.8" cy="71.3" r="1.28"/><circle cx="77.3" cy="8.6" r="1.28"/><circle cx="109.2" cy="6.3" r="1.28"/><circle cx="98.3" cy="9.2" r="1.28"/><circle cx="2.0" cy="51.1" r="1.28"/><circle cx="115.0" cy="51.1" r="1.28"/><circle cx="27.4" cy="52.1" r="1.28"/><circle cx="21.2" cy="3.6" r="1.28"/><circle cx="87.5" cy="50.7" r="1.28"/><circle cx="96.7" cy="51.8" r="1.28"/><circle cx="9.5" cy="44.6" r="1.28"/><circle cx="80.1" cy="32.7" r="1.28"/><circle cx="105.4" cy="18.0" r="1.28"/><circle cx="109.0" cy="50.9" r="1.28"/><circle cx="1.3" cy="1.0" r="1.28"/><circle cx="1.3" cy="72.0" r="1.28"/><circle cx="114.3" cy="1.0" r="1.28"/><circle cx="114.3" cy="72.0" r="1.28"/><circle cx="73.5" cy="58.0" r="1.28"/><circle cx="9.0" cy="22.1" r="1.28"/><circle cx="82.4" cy="11.8" r="1.28"/><circle cx="97.3" cy="34.5" r="1.28"/><circle cx="6.8" cy="26.1" r="1.28"/><circle cx="65.0" cy="31.1" r="1.28"/><circle cx="76.5" cy="10.3" r="1.28"/><circle cx="90.1" cy="25.8" r="1.28"/><circle cx="72.9" cy="44.7" r="1.28"/><circle cx="47.2" cy="27.4" r="1.28"/><circle cx="88.8" cy="67.1" r="1.28"/><circle cx="88.7" cy="40.2" r="1.28"/><circle cx="33.0" cy="4.3" r="1.28"/><circle cx="-2.9" cy="49.9" r="1.28"/><circle cx="110.1" cy="49.9" r="1.28"/><circle cx="93.5" cy="23.6" r="1.28"/><circle cx="68.5" cy="-1.6" r="1.28"/><circle cx="68.5" cy="69.4" r="1.28"/><circle cx="93.9" cy="42.7" r="1.28"/><circle cx="34.9" cy="30.4" r="1.28"/><circle cx="100.4" cy="26.7" r="1.28"/><circle cx="77.4" cy="42.7" r="1.28"/><circle cx="101.3" cy="57.3" r="1.28"/><circle cx="32.0" cy="0.1" r="1.28"/><circle cx="32.0" cy="71.1" r="1.28"/><circle cx="29.7" cy="30.0" r="1.28"/><circle cx="66.3" cy="57.9" r="1.28"/><circle cx="100.3" cy="3.0" r="1.28"/><circle cx="100.3" cy="74.0" r="1.28"/><circle cx="94.2" cy="57.6" r="1.28"/><circle cx="98.0" cy="40.6" r="1.28"/><circle cx="30.9" cy="60.4" r="1.28"/><circle cx="91.2" cy="48.6" r="1.28"/><circle cx="103.3" cy="24.6" r="1.28"/><circle cx="9.6" cy="39.3" r="1.28"/><circle cx="90.1" cy="14.2" r="1.28"/><circle cx="84.8" cy="66.2" r="1.28"/><circle cx="26.4" cy="43.1" r="1.28"/><circle cx="76.6" cy="33.0" r="1.28"/><circle cx="23.3" cy="18.1" r="1.28"/><circle cx="84.9" cy="56.2" r="1.28"/><circle cx="51.9" cy="6.2" r="1.28"/><circle cx="91.1" cy="54.8" r="1.28"/><circle cx="26.3" cy="41.2" r="1.28"/><circle cx="101.4" cy="62.8" r="1.28"/><circle cx="59.0" cy="33.8" r="1.28"/><circle cx="66.6" cy="13.4" r="1.28"/><circle cx="21.7" cy="12.8" r="1.28"/><circle cx="79.2" cy="25.8" r="1.28"/><circle cx="63.8" cy="28.6" r="1.28"/><circle cx="58.4" cy="10.6" r="1.28"/><circle cx="5.0" cy="-0.2" r="1.28"/><circle cx="5.0" cy="70.8" r="1.28"/><circle cx="42.3" cy="7.5" r="1.28"/><circle cx="71.5" cy="55.9" r="1.28"/><circle cx="17.6" cy="42.4" r="1.28"/><circle cx="39.0" cy="36.9" r="1.28"/><circle cx="2.3" cy="2.4" r="1.28"/><circle cx="2.3" cy="73.4" r="1.28"/><circle cx="115.3" cy="2.4" r="1.28"/><circle cx="115.3" cy="73.4" r="1.28"/><circle cx="-1.1" cy="61.5" r="1.28"/><circle cx="111.9" cy="61.5" r="1.28"/><circle cx="55.0" cy="40.3" r="1.28"/><circle cx="29.6" cy="55.3" r="1.28"/><circle cx="48.1" cy="67.2" r="1.28"/><circle cx="86.7" cy="58.1" r="1.28"/><circle cx="108.9" cy="18.0" r="1.28"/><circle cx="4.3" cy="14.3" r="1.28"/><circle cx="20.4" cy="5.9" r="1.28"/><circle cx="5.8" cy="39.6" r="1.28"/><circle cx="98.4" cy="32.5" r="1.28"/><circle cx="107.0" cy="64.6" r="1.28"/><circle cx="7.3" cy="42.5" r="1.28"/><circle cx="44.9" cy="8.5" r="1.28"/><circle cx="108.4" cy="18.3" r="1.28"/><circle cx="63.8" cy="45.5" r="1.28"/><circle cx="108.1" cy="47.6" r="1.28"/><circle cx="44.4" cy="31.8" r="1.28"/><circle cx="18.0" cy="-2.4" r="1.28"/><circle cx="18.0" cy="68.6" r="1.28"/><circle cx="-0.9" cy="15.7" r="1.28"/><circle cx="112.1" cy="15.7" r="1.28"/><circle cx="4.4" cy="18.2" r="1.28"/><circle cx="39.8" cy="64.1" r="1.28"/><circle cx="102.2" cy="59.4" r="1.28"/><circle cx="5.3" cy="55.8" r="1.28"/><circle cx="80.2" cy="45.9" r="1.28"/><circle cx="-1.6" cy="4.0" r="1.28"/><circle cx="111.4" cy="4.0" r="1.28"/><circle cx="16.4" cy="53.6" r="1.28"/><circle cx="106.2" cy="48.1" r="1.28"/><circle cx="33.8" cy="42.0" r="1.28"/><circle cx="85.6" cy="7.5" r="1.28"/><circle cx="36.6" cy="18.2" r="1.28"/><circle cx="14.0" cy="34.2" r="1.28"/><circle cx="19.0" cy="16.9" r="1.28"/><circle cx="16.2" cy="48.1" r="1.28"/><circle cx="1.4" cy="50.9" r="1.28"/><circle cx="114.4" cy="50.9" r="1.28"/><circle cx="22.0" cy="2.6" r="1.28"/><circle cx="22.0" cy="73.6" r="1.28"/><circle cx="104.8" cy="15.7" r="1.28"/><circle cx="105.5" cy="61.5" r="1.28"/><circle cx="100.4" cy="9.9" r="1.28"/><circle cx="50.5" cy="6.9" r="1.28"/><circle cx="105.0" cy="59.8" r="1.28"/><circle cx="71.0" cy="32.1" r="1.28"/><circle cx="38.4" cy="58.4" r="1.28"/><circle cx="54.0" cy="44.6" r="1.28"/><circle cx="15.8" cy="14.3" r="1.28"/><circle cx="15.8" cy="62.2" r="1.28"/><circle cx="31.3" cy="60.8" r="1.28"/><circle cx="36.3" cy="64.1" r="1.28"/><circle cx="100.2" cy="47.6" r="1.28"/><circle cx="33.4" cy="14.1" r="1.28"/><circle cx="104.9" cy="6.7" r="1.28"/><circle cx="84.3" cy="21.1" r="1.28"/><circle cx="81.7" cy="21.4" r="1.28"/><circle cx="84.4" cy="20.9" r="1.28"/><circle cx="81.3" cy="20.7" r="1.28"/><circle cx="79.7" cy="21.9" r="1.28"/><circle cx="82.4" cy="22.4" r="1.28"/><circle cx="82.6" cy="21.4" r="1.28"/><circle cx="82.3" cy="19.0" r="1.28"/><circle cx="82.3" cy="21.3" r="1.28"/><circle cx="83.5" cy="21.7" r="1.28"/><circle cx="81.1" cy="20.9" r="1.28"/><circle cx="82.5" cy="22.4" r="1.28"/><circle cx="80.1" cy="58.0" r="1.28"/><circle cx="79.8" cy="56.4" r="1.28"/><circle cx="79.9" cy="57.2" r="1.28"/><circle cx="92.5" cy="22.7" r="1.28"/><circle cx="94.2" cy="24.1" r="1.28"/><circle cx="89.2" cy="24.2" r="1.28"/><circle cx="91.5" cy="24.6" r="1.28"/><circle cx="92.2" cy="22.8" r="1.28"/><circle cx="92.2" cy="24.8" r="1.28"/><circle cx="65.9" cy="0.8" r="1.28"/><circle cx="65.9" cy="71.8" r="1.28"/><circle cx="68.6" cy="1.6" r="1.28"/><circle cx="68.6" cy="72.6" r="1.28"/><circle cx="92.0" cy="60.3" r="1.28"/><circle cx="86.2" cy="3.9" r="1.28"/><circle cx="83.4" cy="4.2" r="1.28"/><circle cx="84.7" cy="4.3" r="1.28"/><circle cx="85.7" cy="4.2" r="1.28"/><circle cx="85.1" cy="4.9" r="1.28"/><circle cx="84.9" cy="6.6" r="1.28"/><circle cx="3.5" cy="7.1" r="1.28"/><circle cx="2.1" cy="5.9" r="1.28"/><circle cx="115.1" cy="5.9" r="1.28"/><circle cx="1.5" cy="6.6" r="1.28"/><circle cx="114.5" cy="6.6" r="1.28"/><circle cx="5.3" cy="8.3" r="1.28"/><circle cx="79.6" cy="3.3" r="1.28"/><circle cx="32.6" cy="9.9" r="1.28"/><circle cx="32.0" cy="8.1" r="1.28"/><circle cx="66.0" cy="50.5" r="1.28"/><circle cx="42.7" cy="29.7" r="1.28"/><circle cx="45.9" cy="29.1" r="1.28"/><circle cx="43.5" cy="30.6" r="1.28"/><circle cx="43.3" cy="31.0" r="1.28"/><circle cx="46.1" cy="29.6" r="1.28"/><circle cx="104.5" cy="58.3" r="1.28"/><circle cx="105.8" cy="57.1" r="1.28"/><circle cx="103.1" cy="59.1" r="1.28"/><circle cx="102.4" cy="57.0" r="1.28"/><circle cx="102.7" cy="57.8" r="1.28"/><circle cx="101.8" cy="58.4" r="1.28"/><circle cx="2.8" cy="7.1" r="1.28"/><circle cx="115.8" cy="7.1" r="1.28"/><circle cx="0.9" cy="8.3" r="1.28"/><circle cx="113.9" cy="8.3" r="1.28"/><circle cx="4.2" cy="8.2" r="1.28"/><circle cx="4.0" cy="10.3" r="1.28"/><circle cx="2.2" cy="11.7" r="1.28"/><circle cx="115.2" cy="11.7" r="1.28"/><circle cx="2.1" cy="11.4" r="1.28"/><circle cx="115.1" cy="11.4" r="1.28"/><circle cx="3.8" cy="9.1" r="1.28"/><circle cx="2.3" cy="11.4" r="1.28"/><circle cx="115.3" cy="11.4" r="1.28"/><circle cx="-0.3" cy="11.1" r="1.28"/><circle cx="112.7" cy="11.1" r="1.28"/><circle cx="2.1" cy="10.9" r="1.28"/><circle cx="115.1" cy="10.9" r="1.28"/><circle cx="74.6" cy="8.2" r="1.28"/><circle cx="73.0" cy="9.9" r="1.28"/><circle cx="72.5" cy="8.4" r="1.28"/><circle cx="13.2" cy="9.9" r="1.28"/><circle cx="28.4" cy="4.8" r="1.28"/><circle cx="25.9" cy="5.5" r="1.28"/><circle cx="21.2" cy="49.9" r="1.28"/><circle cx="21.7" cy="50.6" r="1.28"/><circle cx="26.2" cy="16.8" r="1.28"/><circle cx="28.5" cy="15.8" r="1.28"/><circle cx="96.4" cy="17.0" r="1.28"/><circle cx="98.4" cy="16.9" r="1.28"/><circle cx="88.1" cy="10.3" r="1.28"/><circle cx="7.0" cy="27.0" r="1.28"/><circle cx="7.5" cy="30.5" r="1.28"/><circle cx="82.4" cy="12.4" r="1.28"/><circle cx="67.7" cy="60.1" r="1.28"/><circle cx="69.6" cy="58.3" r="1.28"/><circle cx="67.6" cy="60.7" r="1.28"/><circle cx="69.0" cy="57.8" r="1.28"/><circle cx="71.3" cy="62.1" r="1.28"/><circle cx="-2.6" cy="54.4" r="1.28"/><circle cx="110.4" cy="54.4" r="1.28"/><circle cx="-0.6" cy="53.8" r="1.28"/><circle cx="112.4" cy="53.8" r="1.28"/><circle cx="1.0" cy="52.0" r="1.28"/><circle cx="114.0" cy="52.0" r="1.28"/><circle cx="66.8" cy="27.5" r="1.28"/><circle cx="68.3" cy="28.1" r="1.28"/><circle cx="63.3" cy="25.0" r="1.28"/><circle cx="56.2" cy="32.2" r="1.28"/><circle cx="66.0" cy="40.8" r="1.28"/><circle cx="95.7" cy="60.7" r="1.28"/><circle cx="95.5" cy="59.4" r="1.28"/><circle cx="96.8" cy="60.0" r="1.28"/><circle cx="92.6" cy="59.6" r="1.28"/><circle cx="95.5" cy="58.0" r="1.28"/><circle cx="96.8" cy="59.5" r="1.28"/><circle cx="93.5" cy="59.3" r="1.28"/><circle cx="94.4" cy="60.2" r="1.28"/><circle cx="94.4" cy="58.9" r="1.28"/><circle cx="97.0" cy="58.9" r="1.28"/><circle cx="58.1" cy="7.9" r="1.28"/><circle cx="63.6" cy="62.6" r="1.28"/><circle cx="62.0" cy="59.6" r="1.28"/><circle cx="64.1" cy="63.7" r="1.28"/><circle cx="65.2" cy="61.8" r="1.28"/><circle cx="63.5" cy="65.5" r="1.28"/><circle cx="65.5" cy="61.2" r="1.28"/><circle cx="66.8" cy="64.1" r="1.28"/><circle cx="64.0" cy="60.4" r="1.28"/><circle cx="67.4" cy="62.3" r="1.28"/><circle cx="64.3" cy="62.8" r="1.28"/><circle cx="33.1" cy="37.0" r="1.28"/><circle cx="31.6" cy="35.1" r="1.28"/><circle cx="41.1" cy="-0.1" r="1.28"/><circle cx="41.1" cy="70.9" r="1.28"/><circle cx="40.2" cy="-1.4" r="1.28"/><circle cx="40.2" cy="69.6" r="1.28"/><circle cx="39.9" cy="-0.5" r="1.28"/><circle cx="39.9" cy="70.5" r="1.28"/><circle cx="34.0" cy="59.1" r="1.28"/><circle cx="32.9" cy="59.8" r="1.28"/><circle cx="34.2" cy="61.5" r="1.28"/><circle cx="59.5" cy="0.1" r="1.28"/><circle cx="59.5" cy="71.1" r="1.28"/><circle cx="61.2" cy="1.5" r="1.28"/><circle cx="61.2" cy="72.5" r="1.28"/><circle cx="60.5" cy="0.1" r="1.28"/><circle cx="60.5" cy="71.1" r="1.28"/><circle cx="17.6" cy="35.7" r="1.28"/><circle cx="19.4" cy="37.2" r="1.28"/><circle cx="19.4" cy="36.0" r="1.28"/><circle cx="19.0" cy="36.0" r="1.28"/><circle cx="19.7" cy="37.9" r="1.28"/><circle cx="10.5" cy="65.2" r="1.28"/><circle cx="10.9" cy="64.4" r="1.28"/><circle cx="12.5" cy="63.2" r="1.28"/><circle cx="108.4" cy="31.6" r="1.28"/><circle cx="-2.4" cy="30.2" r="1.28"/><circle cx="110.6" cy="30.2" r="1.28"/><circle cx="107.4" cy="33.6" r="1.28"/><circle cx="93.6" cy="21.2" r="1.28"/><circle cx="93.0" cy="21.3" r="1.28"/><circle cx="90.7" cy="22.8" r="1.28"/><circle cx="22.9" cy="22.2" r="1.28"/><circle cx="25.0" cy="22.7" r="1.28"/><circle cx="24.5" cy="22.5" r="1.28"/><circle cx="26.0" cy="21.8" r="1.28"/><circle cx="24.5" cy="21.7" r="1.28"/><circle cx="23.9" cy="21.7" r="1.28"/><circle cx="46.1" cy="3.7" r="1.28"/><circle cx="27.7" cy="13.9" r="1.28"/><circle cx="74.9" cy="23.7" r="1.28"/><circle cx="28.3" cy="60.1" r="1.28"/><circle cx="90.8" cy="10.2" r="1.28"/><circle cx="107.4" cy="14.7" r="1.28"/><circle cx="107.7" cy="15.0" r="1.28"/><circle cx="108.0" cy="13.9" r="1.28"/><circle cx="109.6" cy="13.8" r="1.28"/><circle cx="107.7" cy="15.4" r="1.28"/><circle cx="107.7" cy="14.3" r="1.28"/><circle cx="108.7" cy="14.3" r="1.28"/><circle cx="106.8" cy="14.6" r="1.28"/><circle cx="108.0" cy="16.8" r="1.28"/><circle cx="43.0" cy="47.8" r="1.28"/><circle cx="44.1" cy="47.1" r="1.28"/><circle cx="44.1" cy="45.8" r="1.28"/><circle cx="74.0" cy="8.8" r="1.28"/><circle cx="74.8" cy="8.2" r="1.28"/><circle cx="35.0" cy="15.1" r="1.28"/></pattern><pattern id="p2" patternUnits="userSpaceOnUse" width="131" height="103" x="34" y="46" fill="#1f77b4" fill-opacity="0.120" stroke="#1f77b4" stroke-opacity="0.120" stroke-width="2.083"><circle cx="52.8" cy="93.6" r="1.28"/><circle cx="101.5" cy="90.9" r="1.28"/><circle cx="112.8" cy="13.6" r="1.28"/><circle cx="36.2" cy="3.0" r="1.28"/><circle cx="89.0" cy="68.4" r="1.28"/><circle cx="46.0" cy="42.5" r="1.28"/><circle cx="86.3" cy="72.0" r="1.28"/><circle cx="32.5" cy="87.2" r="1.28"/><circle cx="46.1" cy="64.8" r="1.28"/><circle cx="23.8" cy="11.9" r="1.28"/><circle cx="119.6" cy="75.6" r="1.28"/><circle cx="93.3" cy="4.2" r="1.28"/><circle cx="5.2" cy="16.7" r="1.28"/><circle cx="25.9" cy="31.2" r="1.28"/><circle cx="49.9" cy="4.0" r="1.28"/><circle cx="40.7" cy="65.7" r="1.28"/><circle cx="23.5" cy="86.5" r="1.28"/><circle cx="74.7" cy="73.8" r="1.28"/><circle cx="33.4" cy="44.8" r="1.28"/><circle cx="89.6" cy="36.0" r="1.28"/><circle cx="0.1" cy="85.9" r="1.28"/><circle cx="131.1" cy="85.9" r="1.28"/><circle cx="101.7" cy="29.5" r="1.28"/><circle cx="5.6" cy="88.0" r="1.28"/><circle cx="79.6" cy="4.9" r="1.28"/><circle cx="32.0" cy="11.5" r="1.28"/><circle cx="103.7" cy="21.6" r="1.28"/><circle cx="119.8" cy="77.2" r="1.28"/><circle cx="11.3" cy="71.6" r="1.28"/><circle cx="51.6" cy="77.0" r="1.28"/><circle cx="108.6" cy="29.0" r="1.28"/><circle cx="11.8" cy="97.5" r="1.28"/><circle cx="55.5" cy="95.8" r="1.28"/><circle cx="90.6" cy="76.1" r="1.28"/><circle cx="108.7" cy="64.7" r="1.28"/><circle cx="59.3" cy="5.6" r="1.28"/><circle cx="91.5" cy="44.1" r="1.28"/><circle cx="67.1" cy="95.6" r="1.28"/><circle cx="16.7" cy="78.5" r="1.28"/><circle cx="5.7" cy="72.4" r="1.28"/><circle cx="105.6" cy="26.9" r="1.28"/><circle cx="71.6" cy="99.8" r="1.28"/><circle cx="83.5" cy="56.0" r="1.28"/><circle cx="32.7" cy="6.1" r="1.28"/><circle cx="46.9" cy="42.4" r="1.28"/><circle cx="26.4" cy="32.0" r="1.28"/><circle cx="17.9" cy="72.8" r="1.28"/><circle cx="87.8" cy="24.5" r="1.28"/><circle cx="31.7" cy="53.1" r="1.28"/><circle cx="58.3" cy="96.4" r="1.28"/><circle cx="46.0" cy="30.8" r="1.28"/><circle cx="115.9" cy="14.6" r="1.28"/><circle cx="73.8" cy="34.4" r="1.28"/><circle cx="106.8" cy="56.5" r="1.28"/><circle cx="99.6" cy="17.4" r="1.28"/><circle cx="87.3" cy="61.7" r="1.28"/><circle cx="60.4" cy="78.9" r="1.28"/><circle cx="108.9" cy="11.8" r="1.28"/><circle cx="37.9" cy="37.1" r="1.28"/><circle cx="27.0" cy="6.2" r="1.28"/><circle cx="36.8" cy="20.3" r="1.28"/><circle cx="91.9" cy="46.1" r="1.28"/><circle cx="14.8" cy="33.4" r="1.28"/><circle cx="61.4" cy="37.4" r="1.28"/><circle cx="22.0" cy="7.4" r="1.28"/><circle cx="1.4" cy="-0.8" r="1.28"/><circle cx="1.4" cy="102.2" r="1.28"/><circle cx="132.4" cy="-0.8" r="1.28"/><circle cx="132.4" cy="102.2" r="1.28"/><circle cx="98.3" cy="8.6" r="1.28"/><circle cx="93.9" cy="-2.0" r="1.28"/><circle cx="93.9" cy="101.0" r="1.28"/><circle cx="73.8" cy="11.2" r="1.28"/><circle cx="64.0" cy="44.7" r="1.28"/><circle cx="24.9" cy="55.9" r="1.28"/><circle cx="1.1" cy="94.7" r="1.28"/><circle cx="132.1" cy="94.7" r="1.28"/><circle cx="84.4" cy="64.7" r="1.28"/><circle cx="122.5" cy="67.2" r="1.28"/><circle cx="32.9" cy="25.3" r="1.28"/><circle cx="18.2" cy="2.8" r="1.28"/><circle cx="18.2" cy="105.8" r="1.28"/><circle cx="101.5" cy="86.5" r="1.28"/><circle cx="38.8" cy="19.1" r="1.28"/><circle cx="83.6" cy="87.1" r="1.28"/><circle cx="121.4" cy="17.4" r="1.28"/><circle cx="102.8" cy="85.5" r="1.28"/><circle cx="97.2" cy="33.6" r="1.28"/><circle cx="24.2" cy="85.0" r="1.28"/><circle cx="41.9" cy="38.0" r="1.28"/><circle cx="72.2" cy="38.0" r="1.28"/><circle cx="108.9" cy="24.7" r="1.28"/><circle cx="5.4" cy="58.4" r="1.28"/><circle cx="82.3" cy="84.4" r="1.28"/><circle cx="92.4" cy="93.2" r="1.28"/><circle cx="123.8" cy="50.9" r="1.28"/><circle cx="65.4" cy="16.2" r="1.28"/><circle cx="39.2" cy="59.9" r="1.28"/><circle cx="10.5" cy="70.9" r="1.28"/><circle cx="21.4" cy="45.6" r="1.28"/><circle cx="127.0" cy="9.2" r="1.28"/><circle cx="5.2" cy="45.3" r="1.28"/><circle cx="25.0" cy="74.5" r="1.28"/><circle cx="0.4" cy="86.6" r="1.28"/><circle cx="131.4" cy="86.6" r="1.28"/><circle cx="112.0" cy="81.1" r="1.28"/><circle cx="55.7" cy="29.2" r="1.28"/><circle cx="86.7" cy="53.0" r="1.28"/><circle cx="55.2" cy="34.9" r="1.28"/><circle cx="57.5" cy="68.6" r="1.28"/><circle cx="108.2" cy="93.1" r="1.28"/><circle cx="21.5" cy="30.5" r="1.28"/><circle cx="58.1" cy="58.0" r="1.28"/><circle cx="45.6" cy="20.1" r="1.28"/><circle cx="11.1" cy="33.3" r="1.28"/><circle cx="60.3" cy="-3.0" r="1.28"/><circle cx="60.3" cy="100.0" r="1.28"/><circle cx="119.0" cy="89.1" r="1.28"/><circle cx="127.6" cy="99.1" r="1.28"/><circle cx="81.2" cy="83.5" r="1.28"/><circle cx="7.9" cy="69.7" r="1.28"/><circle cx="79.8" cy="30.6" r="1.28"/><circle cx="74.8" cy="98.1" r="1.28"/><circle cx="63.0" cy="66.7" r="1.28"/><circle cx="39.2" cy="35.4" r="1.28"/><circle cx="115.9" cy="2.9" r="1.28"/><circle cx="115.9" cy="105.9" r="1.28"/><circle cx="24.7" cy="69.9" r="1.28"/><circle cx="58.6" cy="8.8" r="1.28"/><circle cx="86.5" cy="38.3" r="1.28"/><circle cx="76.1" cy="42.9" r="1.28"/><circle cx="69.4" cy="58.2" r="1.28"/><circle cx="51.9" cy="11.8" r="1.28"/><circle cx="23.6" cy="91.7" r="1.28"/><circle cx="71.8" cy="11.6" r="1.28"/><circle cx="112.9" cy="26.1" r="1.28"/><circle cx="12.4" cy="54.7" r="1.28"/><circle cx="33.0" cy="50.4" r="1.28"/><circle cx="72.6" cy="23.3" r="1.28"/><circle cx="75.0" cy="11.6" r="1.28"/><circle cx="67.2" cy="60.6" r="1.28"/><circle cx="10.5" cy="42.0" r="1.28"/><circle cx="9.6" cy="45.3" r="1.28"/><circle cx="113.1" cy="56.7" r="1.28"/><circle cx="93.6" cy="78.0" r="1.28"/><circle cx="15.0" cy="-1.0" r="1.28"/><circle cx="15.0" cy="102.0" r="1.28"/><circle cx="94.5" cy="10.5" r="1.28"/><circle cx="108.8" cy="40.4" r="1.28"/><circle cx="22.4" cy="98.9" r="1.28"/><circle cx="73.8" cy="79.8" r="1.28"/><circle cx="17.9" cy="79.9" r="1.28"/><circle cx="7.5" cy="24.4" r="1.28"/><circle cx="48.8" cy="1.6" r="1.28"/><circle cx="48.8" cy="104.6" r="1.28"/><circle cx="77.9" cy="22.0" r="1.28"/><circle cx="39.3" cy="72.9" r="1.28"/><circle cx="55.8" cy="91.5" r="1.28"/><circle cx="81.4" cy="89.8" r="1.28"/><circle cx="73.7" cy="94.5" r="1.28"/><circle cx="114.1" cy="17.3" r="1.28"/><circle cx="97.7" cy="35.2" r="1.28"/><circle cx="100.0" cy="70.1" r="1.28"/><circle cx="108.2" cy="12.6" r="1.28"/><circle cx="48.9" cy="75.9" r="1.28"/><circle cx="124.2" cy="74.3" r="1.28"/><circle cx="5.7" cy="62.2" r="1.28"/><circle cx="13.1" cy="56.5" r="1.28"/><circle cx="105.2" cy="11.6" r="1.28"/><circle cx="121.2" cy="69.5" r="1.28"/><circle cx="33.4" cy="19.9" r="1.28"/><circle cx="58.5" cy="86.3" r="1.28"/><circle cx="76.2" cy="11.7" r="1.28"/><circle cx="2.7" cy="11.4" r="1.28"/><circle cx="133.7" cy="11.4" r="1.28"/><circle cx="104.9" cy="19.1" r="1.28"/><circle cx="72.6" cy="29.9" r="1.28"/><circle cx="90.0" cy="39.2" r="1.28"/><circle cx="18.9" cy="90.2" r="1.28"/><circle cx="70.5" cy="71.0" r="1.28"/><circle cx="105.9" cy="97.7" r="1.28"/><circle cx="1.8" cy="35.3" r="1.28"/><circle cx="132.8" cy="35.3" r="1.28"/><circle cx="19.8" cy="51.7" r="1.28"/><circle cx="114.4" cy="82.4" r="1.28"/><circle cx="4.6" cy="18.8" r="1.28"/><circle cx="107.2" cy="70.0" r="1.28"/><circle cx="51.4" cy="49.0" r="1.28"/><circle cx="20.7" cy="87.0" r="1.28"/><circle cx="51.5" cy="89.9" r="1.28"/><circle cx="80.0" cy="7.8" r="1.28"/><circle cx="43.1" cy="22.3" r="1.28"/><circle cx="117.1" cy="60.7" r="1.28"/><circle cx="5.7" cy="17.5" r="1.28"/><circle cx="47.3" cy="48.2" r="1.28"/><circle cx="75.6" cy="40.0" r="1.28"/><circle cx="46.3" cy="0.6" r="1.28"/><circle cx="46.3" cy="103.6" r="1.28"/><circle cx="75.9" cy="34.4" r="1.28"/><circle cx="2.7" cy="47.3" r="1.28"/><circle cx="133.7" cy="47.3" r="1.28"/><circle cx="-1.8" cy="4.7" r="1.28"/><circle cx="129.2" cy="4.7" r="1.28"/><circle cx="19.1" cy="69.1" r="1.28"/><circle cx="35.7" cy="28.2" r="1.28"/><circle cx="65.5" cy="27.0" r="1.28"/><circle cx="74.5" cy="54.4" r="1.28"/><circle cx="125.4" cy="-0.8" r="1.28"/><circle cx="125.4" cy="102.2" r="1.28"/><circle cx="4.5" cy="57.7" r="1.28"/><circle cx="101.0" cy="89.9" r="1.28"/><circle cx="101.4" cy="65.2" r="1.28"/><circle cx="83.1" cy="37.4" r="1.28"/><circle cx="36.9" cy="81.9" r="1.28"/><circle cx="114.3" cy="96.7" r="1.28"/><circle cx="89.3" cy="31.3" r="1.28"/><circle cx="100.0" cy="76.2" r="1.28"/><circle cx="66.7" cy="65.4" r="1.28"/><circle cx="45.9" cy="56.7" r="1.28"/><circle cx="53.2" cy="6.2" r="1.28"/><circle cx="44.2" cy="33.3" r="1.28"/><circle cx="-1.5" cy="49.6" r="1.28"/><circle cx="129.5" cy="49.6" r="1.28"/><circle cx="48.1" cy="25.1" r="1.28"/><circle cx="30.8" cy="36.0" r="1.28"/><circle cx="17.8" cy="0.7" r="1.28"/><circle cx="17.8" cy="103.7" r="1.28"/><circle cx="114.1" cy="46.7" r="1.28"/><circle cx="58.4" cy="58.6" r="1.28"/><circle cx="39.6" cy="17.4" r="1.28"/><circle cx="8.7" cy="31.1" r="1.28"/><circle cx="40.4" cy="74.8" r="1.28"/><circle cx="72.2" cy="96.6" r="1.28"/><circle cx="44.6" cy="94.9" r="1.28"/><circle cx="76.4" cy="8.2" r="1.28"/><circle cx="23.4" cy="59.8" r="1.28"/><circle cx="-1.6" cy="36.8" r="1.28"/><circle cx="129.4" cy="36.8" r="1.28"/><circle cx="101.5" cy="44.1" r="1.28"/><circle cx="113.7" cy="7.0" r="1.28"/><circle cx="63.5" cy="92.6" r="1.28"/><circle cx="36.1" cy="26.5" r="1.28"/><circle cx="3.0" cy="17.0" r="1.28"/><circle cx="35.1" cy="72.6" r="1.28"/><circle cx="28.6" cy="41.2" r="1.28"/><circle cx="26.2" cy="62.1" r="1.28"/><circle cx="113.2" cy="66.8" r="1.28"/><circle cx="25.8" cy="75.6" r="1.28"/><circle cx="126.2" cy="61.9" r="1.28"/><circle cx="10.4" cy="83.4" r="1.28"/><circle cx="114.7" cy="35.1" r="1.28"/><circle cx="17.9" cy="19.4" r="1.28"/><circle cx="70.3" cy="90.2" r="1.28"/><circle cx="83.8" cy="95.1" r="1.28"/><circle cx="27.8" cy="33.7" r="1.28"/><circle cx="98.2" cy="66.8" r="1.28"/><circle cx="53.1" cy="69.9" r="1.28"/><circle cx="44.2" cy="5.9" r="1.28"/><circle cx="54.3" cy="4.7" r="1.28"/><circle cx="82.0" cy="34.5" r="1.28"/><circle cx="64.8" cy="61.6" r="1.28"/><circle cx="33.7" cy="47.7" r="1.28"/><circle cx="1.8" cy="95.3" r="1.28"/><circle cx="132.8" cy="95.3" r="1.28"/><circle cx="73.9" cy="-1.3" r="1.28"/><circle cx="73.9" cy="101.7" r="1.28"/><circle cx="7.3" cy="63.2" r="1.28"/><circle cx="94.9" cy="33.9" r="1.28"/><circle cx="12.2" cy="16.1" r="1.28"/><circle cx="18.7" cy="79.0" r="1.28"/><circle cx="11.8" cy="83.8" r="1.28"/><circle cx="55.4" cy="55.5" r="1.28"/><circle cx="77.1" cy="57.2" r="1.28"/><circle cx="86.1" cy="62.0" r="1.28"/><circle cx="43.3" cy="76.3" r="1.28"/><circle cx="33.8" cy="73.3" r="1.28"/><circle cx="100.0" cy="79.9" r="1.28"/><circle cx="40.5" cy="79.6" r="1.28"/><circle cx="-3.0" cy="46.7" r="1.28"/><circle cx="128.0" cy="46.7" r="1.28"/><circle cx="36.5" cy="53.9" r="1.28"/><circle cx="123.3" cy="13.6" r="1.28"/><circle cx="1.2" cy="49.0" r="1.28"/><circle cx="132.2" cy="49.0" r="1.28"/><circle cx="85.9" cy="79.7" r="1.28"/><circle cx="47.5" cy="-1.1" r="1.28"/><circle cx="47.5" cy="101.9" r="1.28"/><circle cx="29.9" cy="77.9" r="1.28"/><circle cx="11.8" cy="2.9" r="1.28"/><circle cx="11.8" cy="105.9" r="1.28"/><circle cx="17.6" cy="6.2" r="1.28"/><circle cx="65.7" cy="57.2" r="1.28"/><circle cx="23.8" cy="96.8" r="1.28"/><circle cx="47.9" cy="15.4" r="1.28"/><circle cx="23.2" cy="76.0" r="1.28"/><circle cx="120.7" cy="16.7" r="1.28"/><circle cx="3.8" cy="80.1" r="1.28"/><circle cx="31.8" cy="-1.8" r="1.28"/><circle cx="31.8" cy="101.2" r="1.28"/><circle cx="65.4" cy="65.5" r="1.28"/><circle cx="45.1" cy="82.5" r="1.28"/><circle cx="60.3" cy="33.4" r="1.28"/><circle cx="118.4" cy="11.1" r="1.28"/><circle cx="96.1" cy="6.7" r="1.28"/><circle cx="84.6" cy="41.4" r="1.28"/><circle cx="113.2" cy="6.2" r="1.28"/><circle cx="73.9" cy="42.2" r="1.28"/><circle cx="120.4" cy="97.3" r="1.28"/><circle cx="82.2" cy="23.1" r="1.28"/><circle cx="33.0" cy="27.0" r="1.28"/><circle cx="56.8" cy="23.8" r="1.28"/><circle cx="26.6" cy="78.2" r="1.28"/><circle cx="84.2" cy="30.7" r="1.28"/><circle cx="-0.7" cy="22.3" r="1.28"/><circle cx="130.3" cy="22.3" r="1.28"/><circle cx="74.6" cy="16.1" r="1.28"/><circle cx="113.1" cy="89.5" r="1.28"/><circle cx="35.0" cy="77.4" r="1.28"/><circle cx="107.8" cy="29.1" r="1.28"/><circle cx="43.4" cy="50.0" r="1.28"/><circle cx="116.7" cy="16.6" r="1.28"/><circle cx="89.4" cy="61.6" r="1.28"/><circle cx="59.3" cy="59.7" r="1.28"/><circle cx="115.7" cy="21.6" r="1.28"/><circle cx="115.7" cy="37.1" r="1.28"/><circle cx="102.2" cy="88.9" r="1.28"/><circle cx="23.9" cy="89.0" r="1.28"/><circle cx="-0.7" cy="30.7" r="1.28"/><circle cx="130.3" cy="30.7" r="1.28"/><circle cx="3.2" cy="11.5" r="1.28"/><circle cx="127.6" cy="1.0" r="1.28"/><circle cx="127.6" cy="104.0" r="1.28"/><circle cx="119.4" cy="15.5" r="1.28"/><circle cx="96.4" cy="10.0" r="1.28"/><circle cx="22.1" cy="70.3" r="1.28"/><circle cx="11.8" cy="35.0" r="1.28"/><circle cx="120.3" cy="73.8" r="1.28"/><circle cx="115.5" cy="-2.1" r="1.28"/><circle cx="115.5" cy="100.9" r="1.28"/><circle cx="4.3" cy="24.2" r="1.28"/><circle cx="103.8" cy="71.0" r="1.28"/><circle cx="5.0" cy="52.0" r="1.28"/><circle cx="30.3" cy="44.3" r="1.28"/><circle cx="13.7" cy="2.1" r="1.28"/><circle cx="13.7" cy="105.1" r="1.28"/><circle cx="-1.2" cy="32.6" r="1.28"/><circle cx="129.8" cy="32.6" r="1.28"/><circle cx="115.1" cy="12.4" r="1.28"/><circle cx="63.8" cy="14.0" r="1.28"/><circle cx="56.1" cy="18.4" r="1.28"/><circle cx="89.8" cy="15.2" r="1.28"/><circle cx="96.7" cy="51.6" r="1.28"/><circle cx="14.7" cy="36.4" r="1.28"/><circle cx="65.0" cy="94.6" r="1.28"/><circle cx="45.8" cy="22.2" r="1.28"/><circle cx="126.7" cy="91.0" r="1.28"/><circle cx="95.8" cy="28.1" r="1.28"/><circle cx="23.2" cy="27.3" r="1.28"/><circle cx="9.0" cy="4.4" r="1.28"/><circle cx="66.6" cy="42.0" r="1.28"/><circle cx="72.9" cy="37.3" r="1.28"/><circle cx="1.4" cy="70.9" r="1.28"/><circle cx="132.4" cy="70.9" r="1.28"/><circle cx="85.6" cy="56.0" r="1.28"/><circle cx="71.9" cy="71.1" r="1.28"/><circle cx="-2.3" cy="90.0" r="1.28"/><circle cx="128.7" cy="90.0" r="1.28"/><circle cx="94.0" cy="41.1" r="1.28"/><circle cx="41.7" cy="43.2" r="1.28"/><circle cx="127.5" cy="39.9" r="1.28"/><circle cx="50.5" cy="42.2" r="1.28"/><circle cx="18.7" cy="-0.2" r="1.28"/><circle cx="18.7" cy="102.8" r="1.28"/><circle cx="0.7" cy="62.6" r="1.28"/><circle cx="131.7" cy="62.6" r="1.28"/><circle cx="121.3" cy="26.2" r="1.28"/><circle cx="80.0" cy="38.8" r="1.28"/><circle cx="31.5" cy="20.4" r="1.28"/><circle cx="15.2" cy="86.8" r="1.28"/><circle cx="102.7" cy="93.6" r="1.28"/><circle cx="6.5" cy="71.5" r="1.28"/><circle cx="42.5" cy="66.6" r="1.28"/><circle cx="71.9" cy="32.5" r="1.28"/><circle cx="127.3" cy="0.1" r="1.28"/><circle cx="127.3" cy="103.1" r="1.28"/><circle cx="97.8" cy="87.9" r="1.28"/><circle cx="66.8" cy="61.0" r="1.28"/><circle cx="-0.7" cy="24.1" r="1.28"/><circle cx="130.3" cy="24.1" r="1.28"/><circle cx="82.5" cy="76.6" r="1.28"/><circle cx="49.6" cy="73.4" r="1.28"/><circle cx="51.6" cy="54.2" r="1.28"/><circle cx="80.3" cy="69.8" r="1.28"/><circle cx="42.2" cy="64.8" r="1.28"/><circle cx="71.1" cy="23.0" r="1.28"/><circle cx="80.2" cy="27.3" r="1.28"/><circle cx="119.0" cy="48.7" r="1.28"/><circle cx="94.5" cy="53.8" r="1.28"/><circle cx="62.4" cy="22.8" r="1.28"/><circle cx="18.6" cy="95.5" r="1.28"/><circle cx="69.3" cy="54.0" r="1.28"/><circle cx="69.1" cy="83.8" r="1.28"/><circle cx="31.3" cy="17.8" r="1.28"/><circle cx="107.7" cy="47.4" r="1.28"/><circle cx="83.9" cy="85.2" r="1.28"/><circle cx="117.1" cy="89.4" r="1.28"/><circle cx="5.7" cy="39.3" r="1.28"/><circle cx="109.0" cy="84.2" r="1.28"/><circle cx="16.1" cy="15.8" r="1.28"/><circle cx="32.9" cy="10.6" r="1.28"/><circle cx="46.7" cy="82.7" r="1.28"/><circle cx="68.3" cy="46.6" r="1.28"/><circle cx="11.5" cy="40.7" r="1.28"/><circle cx="-0.4" cy="71.6" r="1.28"/><circle cx="130.6" cy="71.6" r="1.28"/><circle cx="58.9" cy="49.3" r="1.28"/><circle cx="104.6" cy="78.2" r="1.28"/><circle cx="19.6" cy="70.1" r="1.28"/><circle cx="48.1" cy="53.6" r="1.28"/><circle cx="31.1" cy="38.2" r="1.28"/><circle cx="44.6" cy="39.3" r="1.28"/><circle cx="2.3" cy="20.7" r="1.28"/><circle cx="133.3" cy="20.7" r="1.28"/><circle cx="74.7" cy="5.9" r="1.28"/><circle cx="23.4" cy="74.0" r="1.28"/><circle cx="36.0" cy="33.4" r="1.28"/><circle cx="31.7" cy="85.9" r="1.28"/><circle cx="12.0" cy="65.5" r="1.28"/><circle cx="112.5" cy="20.8" r="1.28"/><circle cx="55.4" cy="81.6" r="1.28"/><circle cx="80.9" cy="38.3" r="1.28"/><circle cx="5.8" cy="45.6" r="1.28"/><circle cx="48.1" cy="73.4" r="1.28"/><circle cx="38.7" cy="42.0" r="1.28"/><circle cx="84.9" cy="83.5" r="1.28"/><circle cx="46.2" cy="39.7" r="1.28"/><circle cx="75.8" cy="95.3" r="1.28"/><circle cx="25.1" cy="-2.9" r="1.28"/><circle cx="25.1" cy="100.1" r="1.28"/><circle cx="93.3" cy="38.4" r="1.28"/><circle cx="87.2" cy="33.9" r="1.28"/><circle cx="9.3" cy="77.9" r="1.28"/><circle cx="49.7" cy="54.2" r="1.28"/><circle cx="65.1" cy="92.8" r="1.28"/><circle cx="99.2" cy="2.6" r="1.28"/><circle cx="99.2" cy="105.6" r="1.28"/><circle cx="77.7" cy="47.6" r="1.28"/><circle cx="60.5" cy="86.5" r="1.28"/><circle cx="54.4" cy="48.8" r="1.28"/><circle cx="116.6" cy="45.3" r="1.28"/><circle cx="64.4" cy="52.7" r="1.28"/><circle cx="108.0" cy="69.0" r="1.28"/><circle cx="97.0" cy="41.4" r="1.28"/><circle cx="5.3" cy="70.0" r="1.28"/><circle cx="72.6" cy="79.2" r="1.28"/><circle cx="100.9" cy="12.2" r="1.28"/><circle cx="28.9" cy="7.9" r="1.28"/><circle cx="107.1" cy="10.5" r="1.28"/><circle cx="11.6" cy="77.6" r="1.28"/><circle cx="73.9" cy="5.7" r="1.28"/><circle cx="89.2" cy="73.2" r="1.28"/><circle cx="63.2" cy="5.6" r="1.28"/><circle cx="90.5" cy="43.0" r="1.28"/><circle cx="76.5" cy="-0.2" r="1.28"/><circle cx="76.5" cy="102.8" r="1.28"/><circle cx="107.0" cy="89.8" r="1.28"/><circle cx="19.1" cy="34.4" r="1.28"/><circle cx="67.9" cy="0.6" r="1.28"/><circle cx="67.9" cy="103.6" r="1.28"/><circle cx="-1.5" cy="28.3" r="1.28"/><circle cx="129.5" cy="28.3" r="1.28"/><circle cx="34.4" cy="32.2" r="1.28"/><circle cx="33.4" cy="88.5" r="1.28"/><circle cx="72.8" cy="52.6" r="1.28"/><circle cx="55.0" cy="5.3" r="1.28"/><circle cx="39.9" cy="89.3" r="1.28"/><circle cx="105.1" cy="88.2" r="1.28"/><circle cx="33.7" cy="20.8" r="1.28"/><circle cx="6.8" cy="55.3" r="1.28"/><circle cx="49.0" cy="47.8" r="1.28"/><circle cx="64.1" cy="60.1" r="1.28"/><circle cx="47.9" cy="82.5" r="1.28"/><circle cx="26.2" cy="94.7" r="1.28"/><circle cx="72.9" cy="5.3" r="1.28"/><circle cx="41.2" cy="54.9" r="1.28"/><circle cx="53.6" cy="58.2" r="1.28"/><circle cx="42.4" cy="28.2" r="1.28"/><circle cx="104.3" cy="30.0" r="1.28"/><circle cx="93.1" cy="82.7" r="1.28"/><circle cx="77.6" cy="46.8" r="1.28"/><circle cx="122.5" cy="45.8" r="1.28"/><circle cx="115.0" cy="5.9" r="1.28"/><circle cx="56.8" cy="65.8" r="1.28"/><circle cx="6.4" cy="88.9" r="1.28"/><circle cx="9.4" cy="61.4" r="1.28"/><circle cx="23.6" cy="95.0" r="1.28"/><circle cx="73.5" cy="82.5" r="1.28"/><circle cx="65.3" cy="69.4" r="1.28"/><circle cx="88.4" cy="30.4" r="1.28"/><circle cx="27.6" cy="86.3" r="1.28"/><circle cx="19.1" cy="94.5" r="1.28"/><circle cx="27.1" cy="10.4" r="1.28"/><circle cx="12.5" cy="80.8" r="1.28"/><circle cx="124.6" cy="42.7" r="1.28"/><circle cx="86.3" cy="26.5" r="1.28"/><circle cx="118.7" cy="70.6" r="1.28"/><circle cx="20.3" cy="5.8" r="1.28"/><circle cx="91.1" cy="4.3" r="1.28"/><circle cx="109.5" cy="30.2" r="1.28"/><circle cx="30.5" cy="60.0" r="1.28"/><circle cx="41.8" cy="57.7" r="1.28"/><circle cx="20.2" cy="93.9" r="1.28"/><circle cx="42.5" cy="86.7" r="1.28"/><circle cx="19.9" cy="82.3" r="1.28"/><circle cx="-2.6" cy="40.3" r="1.28"/><circle cx="128.4" cy="40.3" r="1.28"/><circle cx="4.3" cy="39.1" r="1.28"/><circle cx="83.9" cy="23.0" r="1.28"/><circle cx="71.5" cy="9.6" r="1.28"/><circle cx="60.8" cy="75.0" r="1.28"/><circle cx="56.3" cy="69.9" r="1.28"/><circle cx="15.0" cy="85.3" r="1.28"/><circle cx="16.0" cy="95.1" r="1.28"/><circle cx="-0.5" cy="96.8" r="1.28"/><circle cx="130.5" cy="96.8" r="1.28"/><circle cx="68.9" cy="29.9" r="1.28"/><circle cx="45.6" cy="77.3" r="1.28"/><circle cx="65.0" cy="95.8" r="1.28"/><circle cx="12.2" cy="49.9" r="1.28"/><circle cx="113.2" cy="61.6" r="1.28"/><circle cx="70.8" cy="9.1" r="1.28"/><circle cx="18.3" cy="27.9" r="1.28"/><circle cx="117.0" cy="87.1" r="1.28"/><circle cx="29.8" cy="95.2" r="1.28"/><circle cx="4.2" cy="61.7" r="1.28"/><circle cx="126.7" cy="35.5" r="1.28"/><circle cx="123.7" cy="67.6" r="1.28"/><circle cx="6.6" cy="34.3" r="1.28"/><circle cx="58.9" cy="25.5" r="1.28"/><circle cx="97.2" cy="18.4" r="1.28"/><circle cx="103.2" cy="30.7" r="1.28"/><circle cx="9.1" cy="57.6" r="1.28"/><circle cx="12.5" cy="56.8" r="1.28"/><circle cx="103.2" cy="61.3" r="1.28"/><circle cx="60.4" cy="3.5" r="1.28"/><circle cx="67.3" cy="10.0" r="1.28"/><circle cx="84.7" cy="13.6" r="1.28"/><circle cx="75.7" cy="36.3" r="1.28"/><circle cx="49.1" cy="68.3" r="1.28"/><circle cx="21.5" cy="17.5" r="1.28"/><circle cx="123.3" cy="34.2" r="1.28"/><circle cx="110.3" cy="90.0" r="1.28"/><circle cx="62.9" cy="15.4" r="1.28"/><circle cx="12.3" cy="90.5" r="1.28"/><circle cx="15.3" cy="51.1" r="1.28"/><circle cx="70.2" cy="12.1" r="1.28"/><circle cx="61.3" cy="16.9" r="1.28"/><circle cx="70.1" cy="52.2" r="1.28"/><circle cx="48.1" cy="20.4" r="1.28"/><circle cx="52.9" cy="21.0" r="1.28"/><circle cx="16.7" cy="24.7" r="1.28"/><circle cx="114.2" cy="51.7" r="1.28"/><circle cx="116.7" cy="1.6" r="1.28"/><circle cx="116.7" cy="104.6" r="1.28"/><circle cx="123.6" cy="50.3" r="1.28"/><circle cx="103.6" cy="58.8" r="1.28"/><circle cx="90.3" cy="23.6" r="1.28"/><circle cx="98.3" cy="15.8" r="1.28"/><circle cx="34.6" cy="3.2" r="1.28"/><circle cx="51.5" cy="53.4" r="1.28"/><circle cx="38.2" cy="91.7" r="1.28"/><circle cx="11.0" cy="59.6" r="1.28"/><circle cx="30.6" cy="61.3" r="1.28"/><circle cx="102.7" cy="73.2" r="1.28"/><circle cx="8.5" cy="25.3" r="1.28"/><circle cx="6.8" cy="24.1" r="1.28"/><circle cx="8.6" cy="24.3" r="1.28"/><circle cx="109.0" cy="47.8" r="1.28"/><circle cx="105.1" cy="48.2" r="1.28"/><circle cx="106.9" cy="48.0" r="1.28"/><circle cx="106.0" cy="45.8" r="1.28"/><circle cx="106.8" cy="48.5" r="1.28"/><circle cx="106.7" cy="48.2" r="1.28"/><circle cx="106.4" cy="48.6" r="1.28"/><circle cx="110.3" cy="46.9" r="1.28"/><circle cx="104.2" cy="46.8" r="1.28"/><circle cx="103.7" cy="47.7" r="1.28"/><circle cx="26.2" cy="63.9" r="1.28"/><circle cx="25.8" cy="63.3" r="1.28"/><circle cx="27.7" cy="67.0" r="1.28"/><circle cx="25.1" cy="62.6" r="1.28"/><circle cx="27.6" cy="66.1" r="1.28"/><circle cx="28.5" cy="63.4" r="1.28"/><circle cx="96.5" cy="85.1" r="1.28"/><circle cx="98.5" cy="83.9" r="1.28"/><circle cx="98.3" cy="85.0" r="1.28"/><circle cx="99.0" cy="85.4" r="1.28"/><circle cx="98.2" cy="85.5" r="1.28"/><circle cx="127.3" cy="80.4" r="1.28"/><circle cx="23.3" cy="47.3" r="1.28"/><circle cx="90.2" cy="71.1" r="1.28"/><circle cx="89.0" cy="97.3" r="1.28"/><circle cx="88.1" cy="95.1" r="1.28"/><circle cx="88.6" cy="98.4" r="1.28"/><circle cx="90.6" cy="95.2" r="1.28"/><circle cx="90.8" cy="97.0" r="1.28"/><circle cx="0.7" cy="12.2" r="1.28"/><circle cx="131.7" cy="12.2" r="1.28"/><circle cx="1.1" cy="11.7" r="1.28"/><circle cx="132.1" cy="11.7" r="1.28"/><circle cx="2.4" cy="12.5" r="1.28"/><circle cx="133.4" cy="12.5" r="1.28"/><circle cx="3.1" cy="10.0" r="1.28"/><circle cx="2.0" cy="11.9" r="1.28"/><circle cx="133.0" cy="11.9" r="1.28"/><circle cx="34.3" cy="70.4" r="1.28"/><circle cx="36.8" cy="73.5" r="1.28"/><circle cx="5.0" cy="87.8" r="1.28"/><circle cx="45.5" cy="21.5" r="1.28"/><circle cx="46.4" cy="24.0" r="1.28"/><circle cx="48.8" cy="22.7" r="1.28"/><circle cx="48.2" cy="23.0" r="1.28"/><circle cx="47.8" cy="22.5" r="1.28"/><circle cx="47.4" cy="23.1" r="1.28"/><circle cx="48.8" cy="25.7" r="1.28"/><circle cx="59.2" cy="83.8" r="1.28"/><circle cx="70.4" cy="90.7" r="1.28"/><circle cx="73.8" cy="87.7" r="1.28"/><circle cx="11.0" cy="64.0" r="1.28"/><circle cx="9.0" cy="62.8" r="1.28"/><circle cx="50.4" cy="53.0" r="1.28"/><circle cx="47.1" cy="56.3" r="1.28"/><circle cx="51.4" cy="54.6" r="1.28"/><circle cx="89.6" cy="54.9" r="1.28"/><circle cx="89.3" cy="55.4" r="1.28"/><circle cx="7.0" cy="32.8" r="1.28"/><circle cx="20.1" cy="60.9" r="1.28"/><circle cx="18.9" cy="58.8" r="1.28"/><circle cx="18.5" cy="62.5" r="1.28"/><circle cx="39.9" cy="55.8" r="1.28"/><circle cx="38.8" cy="54.4" r="1.28"/><circle cx="49.5" cy="98.3" r="1.28"/><circle cx="50.7" cy="-2.5" r="1.28"/><circle cx="50.7" cy="100.5" r="1.28"/><circle cx="50.8" cy="97.3" r="1.28"/><circle cx="49.5" cy="99.7" r="1.28"/><circle cx="67.5" cy="89.6" r="1.28"/><circle cx="38.5" cy="7.6" r="1.28"/><circle cx="126.8" cy="19.0" r="1.28"/><circle cx="42.0" cy="46.3" r="1.28"/><circle cx="51.3" cy="-1.2" r="1.28"/><circle cx="51.3" cy="101.8" r="1.28"/><circle cx="59.2" cy="85.2" r="1.28"/><circle cx="60.1" cy="87.9" r="1.28"/><circle cx="57.5" cy="86.5" r="1.28"/><circle cx="86.1" cy="79.6" r="1.28"/><circle cx="69.2" cy="31.8" r="1.28"/><circle cx="71.5" cy="30.3" r="1.28"/><circle cx="68.3" cy="29.2" r="1.28"/><circle cx="124.5" cy="28.0" r="1.28"/><circle cx="98.9" cy="69.3" r="1.28"/><circle cx="98.1" cy="71.5" r="1.28"/><circle cx="126.9" cy="64.1" r="1.28"/><circle cx="-2.4" cy="64.6" r="1.28"/><circle cx="128.6" cy="64.6" r="1.28"/><circle cx="126.1" cy="66.3" r="1.28"/><circle cx="127.1" cy="64.2" r="1.28"/><circle cx="22.6" cy="89.5" r="1.28"/><circle cx="24.9" cy="89.4" r="1.28"/><circle cx="42.0" cy="6.8" r="1.28"/><circle cx="43.6" cy="5.4" r="1.28"/><circle cx="54.1" cy="57.3" r="1.28"/><circle cx="109.9" cy="14.2" r="1.28"/><circle cx="111.9" cy="14.0" r="1.28"/><circle cx="109.7" cy="13.3" r="1.28"/><circle cx="84.5" cy="88.7" r="1.28"/><circle cx="78.4" cy="27.0" r="1.28"/><circle cx="37.3" cy="22.9" r="1.28"/><circle cx="127.6" cy="82.2" r="1.28"/><circle cx="109.4" cy="33.0" r="1.28"/><circle cx="34.0" cy="5.4" r="1.28"/><circle cx="38.2" cy="6.6" r="1.28"/><circle cx="13.9" cy="24.0" r="1.28"/><circle cx="13.7" cy="22.8" r="1.28"/><circle cx="14.7" cy="22.3" r="1.28"/><circle cx="112.0" cy="83.7" r="1.28"/><circle cx="111.4" cy="83.6" r="1.28"/><circle cx="55.3" cy="4.9" r="1.28"/><circle cx="54.4" cy="7.3" r="1.28"/><circle cx="54.8" cy="6.0" r="1.28"/><circle cx="114.7" cy="-0.7" r="1.28"/><circle cx="114.7" cy="102.3" r="1.28"/><circle cx="114.1" cy="-0.5" r="1.28"/><circle cx="114.1" cy="102.5" r="1.28"/><circle cx="113.0" cy="-0.4" r="1.28"/><circle cx="113.0" cy="102.6" r="1.28"/><circle cx="111.9" cy="0.1" r="1.28"/><circle cx="111.9" cy="103.1" r="1.28"/><circle cx="113.3" cy="-1.7" r="1.28"/><circle cx="113.3" cy="101.3" r="1.28"/><circle cx="44.6" cy="20.3" r="1.28"/><circle cx="44.6" cy="18.1" r="1.28"/><circle cx="57.8" cy="21.3" r="1.28"/><circle cx="55.7" cy="19.7" r="1.28"/><circle cx="59.4" cy="20.0" r="1.28"/><circle cx="60.0" cy="19.5" r="1.28"/><circle cx="94.7" cy="74.3" r="1.28"/><circle cx="113.0" cy="75.5" r="1.28"/><circle cx="114.0" cy="75.8" r="1.28"/><circle cx="114.2" cy="74.3" r="1.28"/><circle cx="7.5" cy="16.8" r="1.28"/><circle cx="60.8" cy="12.2" r="1.28"/><circle cx="62.1" cy="-2.3" r="1.28"/><circle cx="62.1" cy="100.7" r="1.28"/><circle cx="62.0" cy="-1.5" r="1.28"/><circle cx="62.0" cy="101.5" r="1.28"/><circle cx="62.9" cy="0.0" r="1.28"/><circle cx="62.9" cy="103.0" r="1.28"/><circle cx="60.9" cy="-1.0" r="1.28"/><circle cx="60.9" cy="102.0" r="1.28"/><circle cx="61.7" cy="-0.7" r="1.28"/><circle cx="61.7" cy="102.3" r="1.28"/><circle cx="63.3" cy="-2.0" r="1.28"/><circle cx="63.3" cy="101.0" r="1.28"/><circle cx="64.9" cy="-2.1" r="1.28"/><circle cx="64.9" cy="100.9" r="1.28"/><circle cx="58.1" cy="73.3" r="1.28"/><circle cx="16.5" cy="0.7" r="1.28"/><circle cx="16.5" cy="103.7" r="1.28"/><circle cx="0.8" cy="85.6" r="1.28"/><circle cx="131.8" cy="85.6" r="1.28"/><circle cx="2.3" cy="84.6" r="1.28"/><circle cx="133.3" cy="84.6" r="1.28"/><circle cx="2.2" cy="86.0" r="1.28"/><circle cx="133.2" cy="86.0" r="1.28"/><circle cx="-0.6" cy="83.8" r="1.28"/><circle cx="130.4" cy="83.8" r="1.28"/><circle cx="-0.5" cy="85.7" r="1.28"/><circle cx="130.5" cy="85.7" r="1.28"/><circle cx="26.5" cy="25.4" r="1.28"/><circle cx="26.4" cy="24.7" r="1.28"/><circle cx="27.4" cy="26.3" r="1.28"/><circle cx="25.5" cy="24.2" r="1.28"/><circle cx="26.6" cy="23.8" r="1.28"/><circle cx="28.7" cy="25.9" r="1.28"/><circle cx="28.2" cy="25.5" r="1.28"/><circle cx="52.5" cy="71.0" r="1.28"/><circle cx="51.9" cy="68.0" r="1.28"/><circle cx="54.1" cy="71.4" r="1.28"/><circle cx="52.1" cy="69.1" r="1.28"/><circle cx="29.6" cy="-0.0" r="1.28"/><circle cx="29.6" cy="103.0" r="1.28"/><circle cx="108.4" cy="65.4" r="1.28"/><circle cx="110.1" cy="65.0" r="1.28"/><circle cx="108.3" cy="65.4" r="1.28"/><circle cx="108.1" cy="68.1" r="1.28"/><circle cx="27.0" cy="67.1" r="1.28"/><circle cx="28.7" cy="69.9" r="1.28"/><circle cx="30.8" cy="69.4" r="1.28"/><circle cx="31.3" cy="71.2" r="1.28"/><circle cx="28.6" cy="68.5" r="1.28"/><circle cx="29.0" cy="68.5" r="1.28"/><circle cx="28.2" cy="69.2" r="1.28"/><circle cx="29.3" cy="66.8" r="1.28"/><circle cx="118.0" cy="-0.5" r="1.28"/><circle cx="118.0" cy="102.5" r="1.28"/><circle cx="118.4" cy="0.2" r="1.28"/><circle cx="118.4" cy="103.2" r="1.28"/><circle cx="118.3" cy="-1.0" r="1.28"/><circle cx="118.3" cy="102.0" r="1.28"/><circle cx="120.4" cy="0.4" r="1.28"/><circle cx="120.4" cy="103.4" r="1.28"/><circle cx="119.1" cy="-0.0" r="1.28"/><circle cx="119.1" cy="103.0" r="1.28"/><circle cx="119.9" cy="0.3" r="1.28"/><circle cx="119.9" cy="103.3" r="1.28"/><circle cx="98.1" cy="1.2" r="1.28"/><circle cx="98.1" cy="104.2" r="1.28"/><circle cx="98.8" cy="3.7" r="1.28"/><circle cx="97.9" cy="3.7" r="1.28"/><circle cx="100.1" cy="4.6" r="1.28"/><circle cx="96.5" cy="2.2" r="1.28"/><circle cx="96.5" cy="105.2" r="1.28"/><circle cx="12.6" cy="74.8" r="1.28"/><circle cx="11.6" cy="76.0" r="1.28"/><circle cx="12.4" cy="74.5" r="1.28"/><circle cx="9.7" cy="73.1" r="1.28"/><circle cx="12.3" cy="75.1" r="1.28"/><circle cx="12.8" cy="75.5" r="1.28"/><circle cx="89.5" cy="62.0" r="1.28"/><circle cx="89.4" cy="60.6" r="1.28"/><circle cx="122.0" cy="74.3" r="1.28"/><circle cx="120.0" cy="75.2" r="1.28"/><circle cx="119.1" cy="73.3" r="1.28"/><circle cx="117.8" cy="76.5" r="1.28"/><circle cx="121.3" cy="78.1" r="1.28"/><circle cx="57.5" cy="73.8" r="1.28"/><circle cx="44.2" cy="9.5" r="1.28"/><circle cx="44.4" cy="8.9" r="1.28"/><circle cx="109.5" cy="0.3" r="1.28"/><circle cx="109.5" cy="103.3" r="1.28"/><circle cx="109.4" cy="-0.5" r="1.28"/><circle cx="109.4" cy="102.5" r="1.28"/><circle cx="109.9" cy="1.9" r="1.28"/><circle cx="109.9" cy="104.9" r="1.28"/><circle cx="110.6" cy="-1.1" r="1.28"/><circle cx="110.6" cy="101.9" r="1.28"/><circle cx="101.3" cy="78.4" r="1.28"/><circle cx="102.7" cy="81.2" r="1.28"/><circle cx="100.3" cy="81.4" r="1.28"/><circle cx="99.9" cy="80.9" r="1.28"/><circle cx="101.6" cy="79.7" r="1.28"/><circle cx="99.2" cy="79.5" r="1.28"/><circle cx="98.2" cy="79.1" r="1.28"/><circle cx="53.9" cy="94.0" r="1.28"/><circle cx="53.6" cy="95.1" r="1.28"/><circle cx="53.5" cy="94.0" r="1.28"/><circle cx="53.3" cy="96.0" r="1.28"/><circle cx="-2.1" cy="16.5" r="1.28"/><circle cx="128.9" cy="16.5" r="1.28"/><circle cx="-1.4" cy="16.2" r="1.28"/><circle cx="129.6" cy="16.2" r="1.28"/><circle cx="32.3" cy="25.7" r="1.28"/><circle cx="32.5" cy="98.4" r="1.28"/><circle cx="32.5" cy="98.3" r="1.28"/><circle cx="33.9" cy="99.7" r="1.28"/><circle cx="9.1" cy="2.0" r="1.28"/><circle cx="9.1" cy="105.0" r="1.28"/><circle cx="64.4" cy="-1.1" r="1.28"/><circle cx="64.4" cy="101.9" r="1.28"/><circle cx="64.9" cy="-2.6" r="1.28"/><circle cx="64.9" cy="100.4" r="1.28"/><circle cx="64.3" cy="-2.0" r="1.28"/><circle cx="64.3" cy="101.0" r="1.28"/><circle cx="92.6" cy="47.4" r="1.28"/><circle cx="89.1" cy="47.7" r="1.28"/><circle cx="92.5" cy="46.3" r="1.28"/><circle cx="90.7" cy="48.2" r="1.28"/><circle cx="106.0" cy="69.1" r="1.28"/><circle cx="117.0" cy="15.4" r="1.28"/><circle cx="118.8" cy="16.9" r="1.28"/><circle cx="121.3" cy="18.2" r="1.28"/><circle cx="50.2" cy="67.6" r="1.28"/><circle cx="52.5" cy="67.4" r="1.28"/><circle cx="52.3" cy="69.4" r="1.28"/><circle cx="47.9" cy="73.5" r="1.28"/><circle cx="48.0" cy="56.0" r="1.28"/><circle cx="37.5" cy="40.0" r="1.28"/><circle cx="37.6" cy="40.4" r="1.28"/><circle cx="36.2" cy="40.5" r="1.28"/><circle cx="35.0" cy="39.6" r="1.28"/><circle cx="6.7" cy="68.6" r="1.28"/><circle cx="6.1" cy="68.6" r="1.28"/><circle cx="4.8" cy="68.8" r="1.28"/><circle cx="7.1" cy="68.7" r="1.28"/><circle cx="5.9" cy="68.4" r="1.28"/><circle cx="31.3" cy="45.8" r="1.28"/><circle cx="62.2" cy="96.8" r="1.28"/><circle cx="61.4" cy="94.9" r="1.28"/><circle cx="116.2" cy="-2.0" r="1.28"/><circle cx="116.2" cy="101.0" r="1.28"/><circle cx="113.1" cy="99.0" r="1.28"/><circle cx="115.1" cy="-1.8" r="1.28"/><circle cx="115.1" cy="101.2" r="1.28"/><circle cx="114.1" cy="99.6" r="1.28"/><circle cx="113.7" cy="-1.2" r="1.28"/><circle cx="113.7" cy="101.8" r="1.28"/><circle cx="112.1" cy="99.6" r="1.28"/><circle cx="10.2" cy="48.4" r="1.28"/><circle cx="46.6" cy="12.4" r="1.28"/><circle cx="49.1" cy="12.4" r="1.28"/><circle cx="47.1" cy="12.3" r="1.28"/><circle cx="45.4" cy="12.7" r="1.28"/><circle cx="46.5" cy="12.1" r="1.28"/><circle cx="45.7" cy="12.3" r="1.28"/><circle cx="46.9" cy="11.8" r="1.28"/><circle cx="48.3" cy="9.6" r="1.28"/><circle cx="47.2" cy="10.0" r="1.28"/><circle cx="45.6" cy="14.2" r="1.28"/><circle cx="47.7" cy="13.1" r="1.28"/><circle cx="45.2" cy="10.8" r="1.28"/><circle cx="10.1" cy="22.6" r="1.28"/><circle cx="26.2" cy="76.7" r="1.28"/><circle cx="25.0" cy="77.0" r="1.28"/><circle cx="25.9" cy="76.9" r="1.28"/><circle cx="58.8" cy="52.9" r="1.28"/><circle cx="61.9" cy="52.1" r="1.28"/><circle cx="62.9" cy="52.0" r="1.28"/><circle cx="63.8" cy="52.7" r="1.28"/><circle cx="62.9" cy="55.7" r="1.28"/><circle cx="62.0" cy="53.8" r="1.28"/><circle cx="61.5" cy="54.2" r="1.28"/><circle cx="63.6" cy="52.9" r="1.28"/><circle cx="63.7" cy="54.6" r="1.28"/><circle cx="-1.5" cy="63.0" r="1.28"/><circle cx="129.5" cy="63.0" r="1.28"/><circle cx="95.5" cy="16.3" r="1.28"/><circle cx="17.4" cy="12.9" r="1.28"/><circle cx="20.4" cy="14.4" r="1.28"/><circle cx="19.8" cy="61.7" r="1.28"/><circle cx="20.7" cy="58.3" r="1.28"/><circle cx="125.0" cy="27.9" r="1.28"/><circle cx="125.8" cy="27.4" r="1.28"/><circle cx="126.3" cy="27.8" r="1.28"/></pattern></defs><g id="grid" stroke="#000" stroke-opacity="0.280" stroke-width="1.667" stroke-dasharray="6.167 2.667" fill="none"><path d="M237.70 911.80L236.61 45.85" stroke-dashoffset="-4.2"/><path d="M442.25 911.80L441.96 45.85" stroke-dashoffset="-4.2"/><path d="M647.00 911.80L647.50 45.85" stroke-dashoffset="-4.2"/><path d="M851.50 911.80L852.80 45.85" stroke-dashoffset="-4.2"/><path d="M84.05 50.47H950.90" stroke-dashoffset="-1.1"/><path d="M84.05 215.02H950.90" stroke-dashoffset="-1.1"/><path d="M84.05 379.57H950.90" stroke-dashoffset="-1.1"/><path d="M84.05 544.13H950.90" stroke-dashoffset="-1.1"/><path d="M84.05 708.68H950.90" stroke-dashoffset="-1.1"/><path d="M84.05 873.23H950.90" stroke-dashoffset="-1.1"/></g><g clip-path="url(#cc)"><g mask="url(#cf)"><rect x="100" y="250" width="840" height="255" fill="url(#p0)"/><rect x="100" y="250" width="840" height="255" fill="url(#p1)"/><rect x="100" y="250" width="840" height="255" fill="url(#p2)"/><circle cx="586.5" cy="473" r="6.5" fill="#fff" fill-opacity="0.75"/><g fill="#1f77b4" fill-opacity="0.5"><circle cx="566" cy="471" r="3"/><circle cx="571.5" cy="473.5" r="3.3"/><circle cx="573.5" cy="469.5" r="2.6"/><circle cx="570" cy="477" r="2.4"/></g><g stroke="#000" stroke-opacity="0.140" stroke-width="1.667" stroke-dasharray="6.167 2.667" fill="none"><path d="M237.70 911.80L236.61 45.85" stroke-dashoffset="-4.2"/><path d="M442.25 911.80L441.96 45.85" stroke-dashoffset="-4.2"/><path d="M647.00 911.80L647.50 45.85" stroke-dashoffset="-4.2"/><path d="M851.50 911.80L852.80 45.85" stroke-dashoffset="-4.2"/><path d="M84.05 50.47H950.90" stroke-dashoffset="-1.1"/><path d="M84.05 215.02H950.90" stroke-dashoffset="-1.1"/><path d="M84.05 379.57H950.90" stroke-dashoffset="-1.1"/><path d="M84.05 544.13H950.90" stroke-dashoffset="-1.1"/><path d="M84.05 708.68H950.90" stroke-dashoffset="-1.1"/><path d="M84.05 873.23H950.90" stroke-dashoffset="-1.1"/></g></g></g><g fill="none" stroke-width="4.167"><circle cx="517.65" cy="478.75" r="393.3" stroke="#8c564b"/><circle cx="517.70" cy="478.75" r="225.05" stroke="#2ca02c"/><path d="M517.85 638.40 A159.65 159.65 0 0 1 358.20 478.75 A159.65 159.65 0 0 1 517.85 319.10 A159.65 159.65 0 0 1 677.50 478.75 A159.65 159.65 0 0 1 517.85 638.40" stroke="#2ca02c" pathLength="1005.31" stroke-dasharray="15.417 6.667"/></g><path d="M505.9 478.9H530" stroke="#d62728" stroke-width="5.6" fill="none"/><path d="M517.95 467V490.9" stroke="#d62728" stroke-width="4.4" fill="none"/><path d="M237.70 911.80v-7.29M236.61 45.85v7.29M442.25 911.80v-7.29M441.96 45.85v7.29M647.00 911.80v-7.29M647.50 45.85v7.29M851.50 911.80v-7.29M852.80 45.85v7.29M84.05 50.47h7.29M950.90 50.47h-7.29M84.05 215.02h7.29M950.90 215.02h-7.29M84.05 379.57h7.29M950.90 379.57h-7.29M84.05 544.13h7.29M950.90 544.13h-7.29M84.05 708.68h7.29M950.90 708.68h-7.29M84.05 873.23h7.29M950.90 873.23h-7.29" stroke="#000" stroke-width="1.667" fill="none"/><rect x="84.05" y="45.85" width="866.85" height="865.95" fill="none" stroke="#000" stroke-width="1.667" stroke-linejoin="miter"/><rect x="95.00" y="55.90" width="360.30" height="138.90" rx="2.8" fill="#fff" fill-opacity="0.8" stroke="#ccc" stroke-opacity="0.8" stroke-width="2.083"/><circle cx="124.6" cy="75.2" r="2.2" fill="#c8c8c8"/><rect x="103.33" y="98.06" width="41.67" height="14.58" fill="none" stroke="#2ca02c" stroke-width="4.167"/><path d="M103.33 147.14H145.00V132.56H103.33Z" fill="none" stroke="#2ca02c" stroke-width="4.167" stroke-dasharray="15.417 6.667"/><rect x="103.33" y="167.01" width="41.67" height="14.58" fill="none" stroke="#8c564b" stroke-width="4.167"/><text x="161.67" y="80.5" style="font-size:20.833px">iDR5 objects</text><text style="font-size:20.833px;white-space:pre"><tspan x="161.97 175.22 192.68 207.15 220.41 233.66 246.92 253.54 261.67 274.92 281.54 293.76 307.01 324.99 338.21 349.66 357.49 370.08 376.70 389.95 395.01 408.27" y="113.30">5×R200 (8.59Mpc • 2.74</tspan><tspan x="424.14" y="105.79" style="font-size:16.50px">∘</tspan><tspan x="437.23" y="113.30">)</tspan></text><text style="font-size:20.833px;white-space:pre"><tspan x="161.97 175.22 192.68 207.15 220.41 233.66 246.92 253.54 261.67 274.92 281.54 294.80 308.05 326.03 339.25 350.71 358.53 371.12 377.74 390.99 397.62 410.87" y="147.50">5×R500 (6.09Mpc • 1.95</tspan><tspan x="426.44" y="139.99" style="font-size:16.50px">∘</tspan><tspan x="440.13" y="147.50">)</tspan></text><text style="font-size:20.833px;white-space:pre"><tspan x="161.97 175.22 188.48 195.10 208.35 221.61 239.58 252.81 264.26 270.88 279.01 292.27 297.33 310.58 323.83" y="181.70">15.00Mpc (4.789</tspan><tspan x="340.19" y="174.19" style="font-size:16.50px">∘</tspan><tspan x="354.23" y="181.70">)</tspan></text><text x="77.2" y="56.57" text-anchor="end" style="font-size:20.833px">4°</text><text x="77.2" y="221.12" text-anchor="end" style="font-size:20.833px">2°</text><text x="77.2" y="385.67" text-anchor="end" style="font-size:20.833px">0°</text><text x="77.2" y="550.23" text-anchor="end" style="font-size:20.833px">-2°</text><text x="77.2" y="714.78" text-anchor="end" style="font-size:20.833px">-4°</text><text x="77.2" y="879.33" text-anchor="end" style="font-size:20.833px">-6°</text><text style="font-size:20.833px"><tspan x="205.61" y="935.50">1</tspan><tspan x="218.46" y="927.60" style="font-size:15.2px">h</tspan><tspan x="228.88" y="935.50">1</tspan><tspan x="242.13" y="935.50">0</tspan><tspan x="254.98" y="927.60" style="font-size:15.2px">m</tspan></text><text style="font-size:20.833px"><tspan x="421.79" y="935.50">0</tspan><tspan x="435.05" y="935.50">0</tspan><tspan x="447.90" y="927.60" style="font-size:15.2px">m</tspan></text><text style="font-size:20.833px"><tspan x="614.91" y="935.50">0</tspan><tspan x="627.76" y="927.60" style="font-size:15.2px">h</tspan><tspan x="638.18" y="935.50">5</tspan><tspan x="651.43" y="935.50">0</tspan><tspan x="664.28" y="927.60" style="font-size:15.2px">m</tspan></text><text style="font-size:20.833px"><tspan x="831.04" y="935.50">4</tspan><tspan x="844.30" y="935.50">0</tspan><tspan x="857.15" y="927.60" style="font-size:15.2px">m</tspan></text><text x="517.48" y="967.5" text-anchor="middle" style="font-size:20.833px">RA</text><text transform="translate(31.8 481.3) rotate(-90)" x="0" y="0" text-anchor="middle" style="font-size:20.833px">DEC</text><text x="517.88" y="34.2" text-anchor="middle" style="font-size:25px">S-PLUS Coverage - Objects: 31031</text></svg></body></html>
